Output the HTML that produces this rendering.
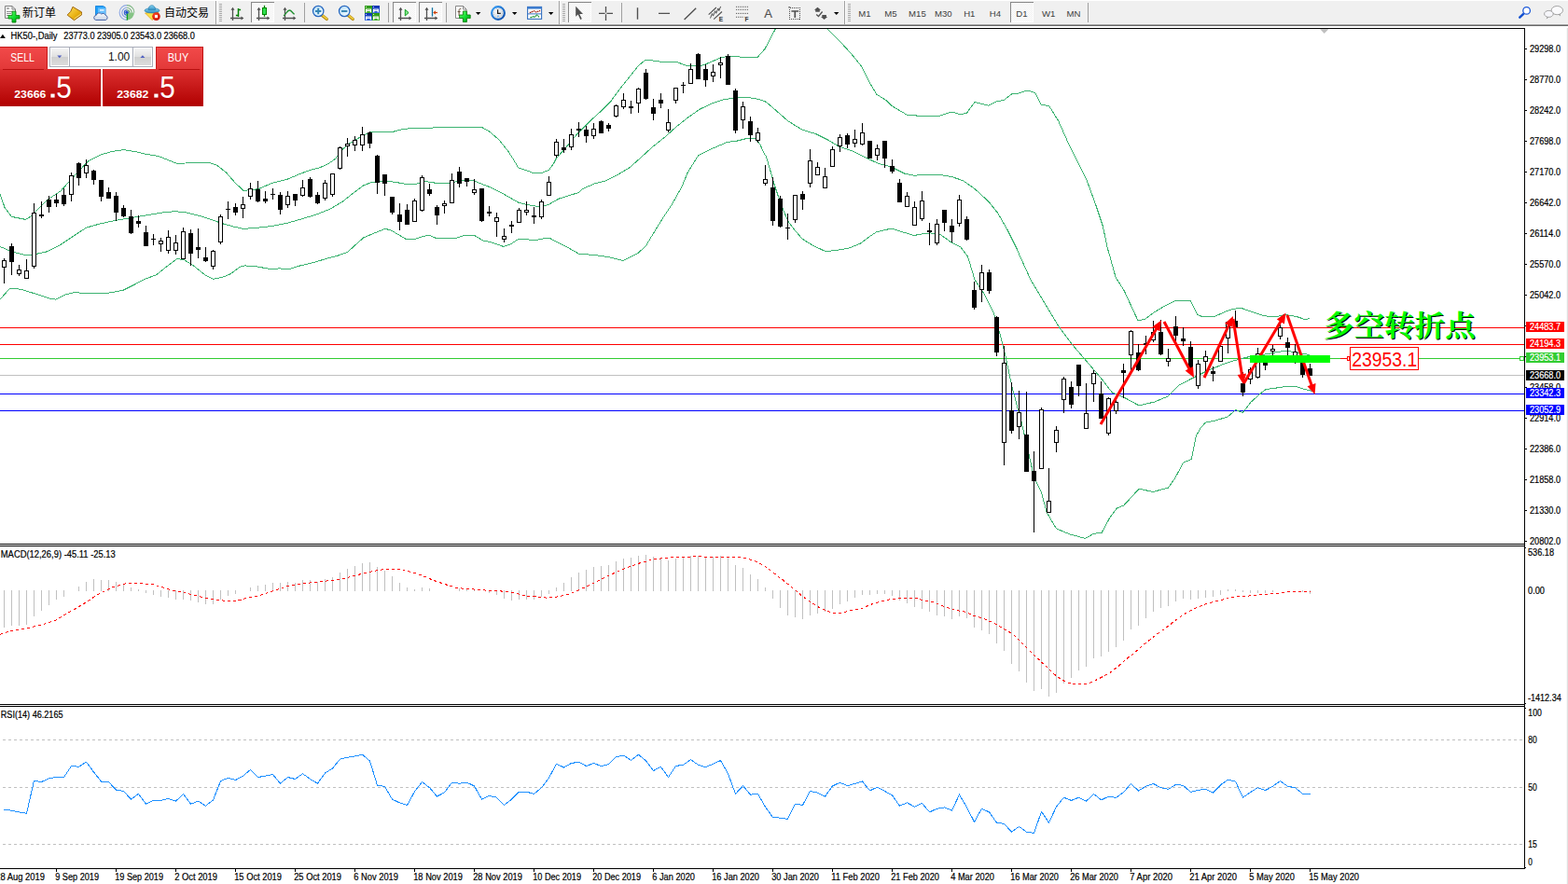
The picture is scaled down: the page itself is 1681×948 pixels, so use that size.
<!DOCTYPE html>
<html><head><meta charset="utf-8"><title>HK50-,Daily</title>
<style>
html,body{margin:0;padding:0;background:#fff}
body{width:1681px;height:948px;overflow:hidden;position:relative;font-family:"Liberation Sans",sans-serif}
svg{position:absolute;left:0;top:0;display:block}
svg text{font-family:"Liberation Sans",sans-serif}
</style></head><body>
<svg width="1681" height="948" viewBox="0 0 1681 948">
<rect x="0" y="0" width="1681" height="948" fill="#fff"/>
<g shape-rendering="crispEdges">
<rect x="0" y="351" width="1634" height="1" fill="#FF0000"/>
<rect x="0" y="369" width="1634" height="1" fill="#FF0000"/>
<rect x="0" y="384" width="1634" height="1" fill="#32CD32"/>
<rect x="0" y="402" width="1634" height="1" fill="#C0C0C0"/>
<rect x="0" y="422" width="1634" height="1" fill="#0000FF"/>
<rect x="0" y="440" width="1634" height="1" fill="#0000FF"/>
<clipPath id="cm"><rect x="0" y="31" width="1634" height="552"/></clipPath><g clip-path="url(#cm)">
<polyline points="0.0,208.2 5.0,222.4 12.5,232.4 27.5,235.4 32.5,232.4 50.0,214.9 65.0,204.9 82.5,185.5 94.9,172.5 107.4,166.2 119.9,162.5 132.4,160.7 144.9,162.5 154.9,165.0 169.9,167.5 182.4,172.5 189.9,175.5 207.4,174.5 224.9,174.5 232.4,177.0 242.4,185.0 252.3,196.2 261.1,204.4 268.6,203.7 277.3,202.5 292.3,196.2 307.3,192.5 322.3,186.2 332.3,182.5 342.3,180.0 352.3,175.5 359.8,170.0 366.0,161.2 374.8,153.7 389.8,145.0 397.3,141.7 420.0,141.7 432.5,138.2 450.0,137.4 475.0,136.7 499.9,136.2 516.2,136.2 524.9,141.2 534.9,149.9 544.9,162.4 549.8,170.0 555.7,179.8 563.6,182.4 571.4,185.4 580.6,185.4 588.5,182.4 593.7,175.2 596.3,170.0 597.4,168.7 607.4,157.4 619.9,142.4 632.4,129.9 644.9,118.7 654.8,108.7 664.8,95.0 674.8,82.5 684.8,70.0 692.3,64.2 699.8,65.0 714.8,67.0 724.8,66.2 734.8,70.0 749.8,71.2 759.8,67.5 772.3,62.0 782.3,60.0 794.8,61.2 812.3,61.2 820.0,52.5 831.2,31.2 845.0,15.0 860.0,7.5 875.0,17.5 887.4,31.2 899.9,43.7 912.4,57.5 923.7,71.2 932.4,88.7 939.9,101.2 949.9,107.5 956.2,113.7 972.4,123.2 987.4,124.4 1007.4,124.2 1019.9,119.9 1028.6,122.4 1036.1,121.7 1044.9,109.5 1059.8,113.2 1068.6,108.7 1076.1,107.5 1084.8,100.7 1092.3,100.0 1101.1,97.0 1109.8,99.5 1116.1,112.0 1124.8,113.7 1134.8,129.9 1144.8,152.4 1154.8,172.4 1164.8,192.4 1174.8,219.9 1182.3,242.4 1187.3,266.1 1189.9,275.0 1196.1,297.5 1204.9,311.2 1213.6,330.0 1219.9,343.7 1227.4,342.4 1237.4,334.9 1249.9,327.5 1259.9,322.5 1276.1,322.5 1283.6,337.4 1289.8,339.9 1302.3,339.4 1314.8,333.7 1322.3,331.2 1331.1,330.5 1342.3,334.4 1354.8,338.7 1367.3,339.9 1377.3,337.4 1389.8,339.4 1398.5,342.4 1404.0,341.7" fill="none" stroke="#3CB371" stroke-width="1" />
<polyline points="0.0,264.4 12.5,269.9 27.5,273.7 36.5,272.9 50.0,269.9 65.0,262.4 80.0,252.4 92.4,244.2 107.4,239.9 124.9,236.2 139.9,233.7 154.9,231.2 174.9,227.9 187.4,226.7 199.9,227.9 214.9,231.7 224.9,234.9 237.4,239.4 249.9,242.9 261.1,245.4 274.8,244.4 292.3,242.4 307.3,239.4 324.8,234.4 339.8,229.9 354.8,223.7 367.3,216.2 379.8,206.2 389.8,198.7 400.0,195.1 415.7,194.2 424.9,195.5 435.3,197.5 445.8,197.5 452.3,195.1 457.6,194.9 464.1,195.5 466.7,196.4 481.1,196.4 489.0,194.9 496.8,193.6 507.3,193.6 515.2,196.8 525.6,200.8 536.1,206.0 546.6,211.9 555.7,217.1 563.6,219.1 570.1,220.4 575.4,221.3 583.2,221.0 588.5,219.1 598.9,213.2 609.4,209.9 620.0,206.6 624.9,202.4 637.4,196.9 649.9,193.7 662.3,187.4 674.8,179.9 687.3,168.7 699.8,157.4 712.3,147.4 724.8,136.2 737.3,126.2 749.8,117.4 762.3,111.2 774.8,107.0 787.3,105.0 797.3,104.2 809.8,105.5 820.0,108.7 825.0,112.5 835.0,121.2 845.0,129.9 860.0,139.2 875.0,143.7 887.4,149.9 899.9,157.4 914.9,162.4 929.9,169.9 942.4,175.7 954.9,178.7 969.9,186.2 979.9,188.2 992.4,187.4 1007.4,187.4 1019.9,189.4 1032.4,193.7 1044.9,202.4 1059.8,216.1 1069.8,228.6 1079.8,246.1 1089.8,266.1 1092.5,272.5 1104.9,300.0 1119.9,325.0 1134.9,349.9 1149.9,369.9 1164.9,387.4 1179.9,404.9 1192.4,421.1 1204.9,426.1 1221.1,434.9 1237.4,431.1 1252.4,424.9 1264.9,412.4 1279.8,404.9 1294.8,397.4 1309.8,391.2 1324.8,386.2 1334.8,383.7 1344.8,381.2 1357.3,379.9 1369.8,377.4 1379.8,376.2 1392.3,378.7 1404.0,380.4" fill="none" stroke="#3CB371" stroke-width="1" />
<polyline points="0.0,321.1 10.0,309.9 15.0,309.1 25.0,311.1 37.5,314.9 52.5,319.9 60.0,321.1 70.0,316.1 80.0,313.6 94.9,314.9 109.9,314.9 119.9,313.6 132.4,311.1 142.4,306.1 154.9,299.4 167.4,294.9 179.9,284.9 189.9,277.4 197.4,278.7 207.4,284.9 219.9,294.9 228.6,299.4 239.9,296.9 247.4,293.6 257.3,286.2 262.3,284.9 274.8,285.7 289.8,288.6 299.8,287.9 309.8,288.6 319.8,285.4 334.8,281.9 349.8,277.4 359.8,274.9 372.3,270.7 379.8,263.7 389.8,254.9 400.0,250.5 405.2,248.5 413.1,245.3 419.6,247.2 426.2,251.1 435.3,256.4 445.8,256.1 452.3,253.8 460.2,252.2 468.1,255.7 478.5,255.7 487.7,255.7 498.2,252.4 508.6,252.4 513.9,255.7 517.8,257.9 525.6,259.6 540.0,264.5 547.9,261.6 555.7,256.4 563.6,256.4 568.8,257.4 575.4,257.4 585.8,255.1 589.8,255.7 596.3,259.0 605.5,263.6 615.9,269.5 621.2,272.5 635.0,273.2 652.4,275.7 667.9,279.5 683.7,271.7 692.4,263.7 699.9,251.2 709.9,235.0 719.9,220.0 731.1,200.0 737.3,184.9 748.5,166.9 762.3,159.9 779.8,152.4 789.8,151.2 799.8,148.7 809.8,148.7 814.8,154.9 820.0,166.2 821.2,167.4 825.0,179.9 830.0,197.4 837.5,219.9 845.0,237.4 852.5,247.4 860.0,256.1 870.0,262.4 872.3,263.7 884.8,269.5 894.8,268.7 909.8,266.2 922.3,261.2 932.3,253.7 939.8,248.7 956.0,245.0 967.3,248.7 980.0,252.5 989.9,250.6 997.4,249.9 1007.4,251.1 1019.9,259.9 1029.9,264.9 1037.5,275.0 1045.0,300.0 1055.0,315.0 1065.0,334.9 1072.5,359.9 1077.5,380.0 1085.0,415.0 1095.0,452.5 1102.5,484.9 1108.7,512.4 1116.2,527.4 1122.4,549.9 1132.4,566.9 1147.4,573.1 1163.7,577.4 1172.4,572.4 1181.2,571.1 1189.9,554.9 1197.4,544.9 1204.9,541.9 1213.6,532.4 1221.1,524.2 1236.1,527.4 1252.4,523.2 1259.9,512.4 1268.6,496.2 1277.3,492.4 1282.3,467.4 1287.3,458.7 1292.3,453.2 1302.3,451.2 1316.1,447.0 1324.8,439.5 1332.3,442.5 1341.1,431.2 1352.3,421.2 1357.3,417.5 1367.3,416.2 1379.8,414.2 1389.8,414.5 1397.3,417.0 1406.5,419.5" fill="none" stroke="#3CB371" stroke-width="1" />
</g>
<rect x="4" y="277" width="1" height="27" fill="#000"/>
<rect x="2" y="279" width="5" height="8" fill="#000"/><rect x="3" y="280" width="3" height="6" fill="#fff"/>
<rect x="12" y="261" width="1" height="34" fill="#000"/>
<rect x="10" y="264" width="5" height="17" fill="#000"/>
<rect x="20" y="284" width="1" height="12" fill="#000"/>
<rect x="18" y="289" width="5" height="5" fill="#000"/><rect x="19" y="290" width="3" height="3" fill="#fff"/>
<rect x="28" y="278" width="1" height="21" fill="#000"/>
<rect x="26" y="290" width="5" height="9" fill="#000"/><rect x="27" y="291" width="3" height="7" fill="#fff"/>
<rect x="36" y="218" width="1" height="70" fill="#000"/>
<rect x="34" y="228" width="5" height="58" fill="#000"/><rect x="35" y="229" width="3" height="56" fill="#fff"/>
<rect x="44" y="216" width="1" height="18" fill="#000"/>
<rect x="42" y="230" width="5" height="2" fill="#000"/>
<rect x="52" y="210" width="1" height="18" fill="#000"/>
<rect x="50" y="214" width="5" height="8" fill="#000"/>
<rect x="60" y="208" width="1" height="14" fill="#000"/>
<rect x="58" y="214" width="5" height="4" fill="#000"/>
<rect x="68" y="202" width="1" height="19" fill="#000"/>
<rect x="66" y="209" width="5" height="10" fill="#000"/>
<rect x="76" y="185" width="1" height="31" fill="#000"/>
<rect x="74" y="188" width="5" height="21" fill="#000"/><rect x="75" y="189" width="3" height="19" fill="#fff"/>
<rect x="84" y="174" width="1" height="25" fill="#000"/>
<rect x="82" y="175" width="5" height="16" fill="#000"/>
<rect x="92" y="171" width="1" height="20" fill="#000"/>
<rect x="90" y="177" width="5" height="9" fill="#000"/><rect x="91" y="178" width="3" height="7" fill="#fff"/>
<rect x="100" y="182" width="1" height="16" fill="#000"/>
<rect x="98" y="183" width="5" height="10" fill="#000"/>
<rect x="108" y="193" width="1" height="23" fill="#000"/>
<rect x="106" y="193" width="5" height="18" fill="#000"/>
<rect x="116" y="201" width="1" height="12" fill="#000"/>
<rect x="114" y="206" width="5" height="7" fill="#000"/>
<rect x="124" y="206" width="1" height="31" fill="#000"/>
<rect x="122" y="210" width="5" height="18" fill="#000"/>
<rect x="132" y="220" width="1" height="13" fill="#000"/>
<rect x="130" y="223" width="5" height="9" fill="#000"/>
<rect x="140" y="225" width="1" height="26" fill="#000"/>
<rect x="138" y="232" width="5" height="18" fill="#000"/>
<rect x="148" y="231" width="1" height="13" fill="#000"/>
<rect x="146" y="237" width="5" height="3" fill="#000"/>
<rect x="156" y="242" width="1" height="22" fill="#000"/>
<rect x="154" y="249" width="5" height="15" fill="#000"/>
<rect x="164" y="251" width="1" height="12" fill="#000"/>
<rect x="162" y="256" width="5" height="1" fill="#000"/>
<rect x="172" y="255" width="1" height="15" fill="#000"/>
<rect x="170" y="258" width="5" height="4" fill="#000"/><rect x="171" y="259" width="3" height="2" fill="#fff"/>
<rect x="180" y="247" width="1" height="25" fill="#000"/>
<rect x="178" y="254" width="5" height="15" fill="#000"/><rect x="179" y="255" width="3" height="13" fill="#fff"/>
<rect x="188" y="252" width="1" height="21" fill="#000"/>
<rect x="186" y="260" width="5" height="9" fill="#000"/><rect x="187" y="261" width="3" height="7" fill="#fff"/>
<rect x="196" y="244" width="1" height="34" fill="#000"/>
<rect x="194" y="248" width="5" height="30" fill="#000"/><rect x="195" y="249" width="3" height="28" fill="#fff"/>
<rect x="204" y="246" width="1" height="39" fill="#000"/>
<rect x="202" y="250" width="5" height="22" fill="#000"/>
<rect x="212" y="245" width="1" height="32" fill="#000"/>
<rect x="210" y="265" width="5" height="3" fill="#000"/>
<rect x="220" y="265" width="1" height="16" fill="#000"/>
<rect x="218" y="276" width="5" height="4" fill="#000"/>
<rect x="228" y="268" width="1" height="21" fill="#000"/>
<rect x="226" y="269" width="5" height="17" fill="#000"/><rect x="227" y="270" width="3" height="15" fill="#fff"/>
<rect x="236" y="230" width="1" height="32" fill="#000"/>
<rect x="234" y="232" width="5" height="28" fill="#000"/><rect x="235" y="233" width="3" height="26" fill="#fff"/>
<rect x="244" y="216" width="1" height="19" fill="#000"/>
<rect x="242" y="224" width="5" height="1" fill="#000"/>
<rect x="252" y="218" width="1" height="13" fill="#000"/>
<rect x="250" y="222" width="5" height="6" fill="#000"/>
<rect x="260" y="211" width="1" height="23" fill="#000"/>
<rect x="258" y="219" width="5" height="5" fill="#000"/><rect x="259" y="220" width="3" height="3" fill="#fff"/>
<rect x="268" y="196" width="1" height="18" fill="#000"/>
<rect x="266" y="202" width="5" height="9" fill="#000"/><rect x="267" y="203" width="3" height="7" fill="#fff"/>
<rect x="276" y="194" width="1" height="23" fill="#000"/>
<rect x="274" y="203" width="5" height="13" fill="#000"/>
<rect x="284" y="205" width="1" height="13" fill="#000"/>
<rect x="282" y="213" width="5" height="3" fill="#000"/>
<rect x="292" y="202" width="1" height="12" fill="#000"/>
<rect x="290" y="208" width="5" height="1" fill="#000"/>
<rect x="300" y="206" width="1" height="24" fill="#000"/>
<rect x="298" y="209" width="5" height="16" fill="#000"/>
<rect x="308" y="205" width="1" height="18" fill="#000"/>
<rect x="306" y="210" width="5" height="10" fill="#000"/><rect x="307" y="211" width="3" height="8" fill="#fff"/>
<rect x="316" y="208" width="1" height="13" fill="#000"/>
<rect x="314" y="208" width="5" height="7" fill="#000"/>
<rect x="324" y="193" width="1" height="18" fill="#000"/>
<rect x="322" y="201" width="5" height="9" fill="#000"/><rect x="323" y="202" width="3" height="7" fill="#fff"/>
<rect x="332" y="190" width="1" height="22" fill="#000"/>
<rect x="330" y="192" width="5" height="19" fill="#000"/>
<rect x="340" y="206" width="1" height="13" fill="#000"/>
<rect x="338" y="209" width="5" height="9" fill="#000"/>
<rect x="348" y="193" width="1" height="22" fill="#000"/>
<rect x="346" y="196" width="5" height="17" fill="#000"/><rect x="347" y="197" width="3" height="15" fill="#fff"/>
<rect x="356" y="186" width="1" height="25" fill="#000"/>
<rect x="354" y="186" width="5" height="23" fill="#000"/><rect x="355" y="187" width="3" height="21" fill="#fff"/>
<rect x="364" y="157" width="1" height="25" fill="#000"/>
<rect x="362" y="158" width="5" height="23" fill="#000"/><rect x="363" y="159" width="3" height="21" fill="#fff"/>
<rect x="372" y="148" width="1" height="20" fill="#000"/>
<rect x="370" y="154" width="5" height="3" fill="#000"/><rect x="371" y="155" width="3" height="1" fill="#fff"/>
<rect x="380" y="146" width="1" height="16" fill="#000"/>
<rect x="378" y="150" width="5" height="6" fill="#000"/><rect x="379" y="151" width="3" height="4" fill="#fff"/>
<rect x="388" y="136" width="1" height="26" fill="#000"/>
<rect x="386" y="144" width="5" height="12" fill="#000"/><rect x="387" y="145" width="3" height="10" fill="#fff"/>
<rect x="396" y="141" width="1" height="18" fill="#000"/>
<rect x="394" y="142" width="5" height="12" fill="#000"/>
<rect x="404" y="166" width="1" height="42" fill="#000"/>
<rect x="402" y="167" width="5" height="29" fill="#000"/>
<rect x="412" y="187" width="1" height="23" fill="#000"/>
<rect x="410" y="187" width="5" height="10" fill="#000"/>
<rect x="420" y="211" width="1" height="19" fill="#000"/>
<rect x="418" y="211" width="5" height="17" fill="#000"/>
<rect x="428" y="218" width="1" height="29" fill="#000"/>
<rect x="426" y="230" width="5" height="8" fill="#000"/>
<rect x="436" y="219" width="1" height="22" fill="#000"/>
<rect x="434" y="225" width="5" height="16" fill="#000"/>
<rect x="444" y="213" width="1" height="25" fill="#000"/>
<rect x="442" y="215" width="5" height="23" fill="#000"/><rect x="443" y="216" width="3" height="21" fill="#fff"/>
<rect x="452" y="188" width="1" height="39" fill="#000"/>
<rect x="450" y="190" width="5" height="36" fill="#000"/><rect x="451" y="191" width="3" height="34" fill="#fff"/>
<rect x="460" y="197" width="1" height="13" fill="#000"/>
<rect x="458" y="203" width="5" height="5" fill="#000"/>
<rect x="468" y="220" width="1" height="21" fill="#000"/>
<rect x="466" y="222" width="5" height="9" fill="#000"/>
<rect x="476" y="215" width="1" height="14" fill="#000"/>
<rect x="474" y="218" width="5" height="3" fill="#000"/><rect x="475" y="219" width="3" height="1" fill="#fff"/>
<rect x="484" y="186" width="1" height="32" fill="#000"/>
<rect x="482" y="193" width="5" height="25" fill="#000"/><rect x="483" y="194" width="3" height="23" fill="#fff"/>
<rect x="492" y="179" width="1" height="22" fill="#000"/>
<rect x="490" y="184" width="5" height="13" fill="#000"/>
<rect x="500" y="191" width="1" height="9" fill="#000"/>
<rect x="498" y="191" width="5" height="4" fill="#000"/>
<rect x="508" y="192" width="1" height="17" fill="#000"/>
<rect x="506" y="203" width="5" height="4" fill="#000"/><rect x="507" y="204" width="3" height="2" fill="#fff"/>
<rect x="516" y="202" width="1" height="36" fill="#000"/>
<rect x="514" y="202" width="5" height="35" fill="#000"/>
<rect x="524" y="221" width="1" height="11" fill="#000"/>
<rect x="522" y="227" width="5" height="2" fill="#000"/>
<rect x="532" y="228" width="1" height="26" fill="#000"/>
<rect x="530" y="233" width="5" height="5" fill="#000"/><rect x="531" y="234" width="3" height="3" fill="#fff"/>
<rect x="540" y="245" width="1" height="15" fill="#000"/>
<rect x="538" y="253" width="5" height="4" fill="#000"/><rect x="539" y="254" width="3" height="2" fill="#fff"/>
<rect x="548" y="237" width="1" height="13" fill="#000"/>
<rect x="546" y="241" width="5" height="2" fill="#000"/>
<rect x="556" y="223" width="1" height="16" fill="#000"/>
<rect x="554" y="225" width="5" height="14" fill="#000"/><rect x="555" y="226" width="3" height="12" fill="#fff"/>
<rect x="564" y="216" width="1" height="15" fill="#000"/>
<rect x="562" y="225" width="5" height="3" fill="#000"/><rect x="563" y="226" width="3" height="1" fill="#fff"/>
<rect x="572" y="222" width="1" height="18" fill="#000"/>
<rect x="570" y="231" width="5" height="2" fill="#000"/>
<rect x="580" y="214" width="1" height="21" fill="#000"/>
<rect x="578" y="216" width="5" height="17" fill="#000"/><rect x="579" y="217" width="3" height="15" fill="#fff"/>
<rect x="588" y="189" width="1" height="21" fill="#000"/>
<rect x="586" y="195" width="5" height="15" fill="#000"/><rect x="587" y="196" width="3" height="13" fill="#fff"/>
<rect x="596" y="149" width="1" height="20" fill="#000"/>
<rect x="594" y="152" width="5" height="15" fill="#000"/><rect x="595" y="153" width="3" height="13" fill="#fff"/>
<rect x="604" y="149" width="1" height="15" fill="#000"/>
<rect x="602" y="158" width="5" height="3" fill="#000"/>
<rect x="612" y="138" width="1" height="23" fill="#000"/>
<rect x="610" y="144" width="5" height="14" fill="#000"/><rect x="611" y="145" width="3" height="12" fill="#fff"/>
<rect x="620" y="131" width="1" height="16" fill="#000"/>
<rect x="618" y="138" width="5" height="2" fill="#000"/>
<rect x="628" y="135" width="1" height="18" fill="#000"/>
<rect x="626" y="139" width="5" height="7" fill="#000"/>
<rect x="636" y="132" width="1" height="17" fill="#000"/>
<rect x="634" y="138" width="5" height="8" fill="#000"/><rect x="635" y="139" width="3" height="6" fill="#fff"/>
<rect x="644" y="129" width="1" height="14" fill="#000"/>
<rect x="642" y="130" width="5" height="13" fill="#000"/>
<rect x="652" y="132" width="1" height="9" fill="#000"/>
<rect x="650" y="134" width="5" height="4" fill="#000"/>
<rect x="660" y="112" width="1" height="14" fill="#000"/>
<rect x="658" y="113" width="5" height="12" fill="#000"/><rect x="659" y="114" width="3" height="10" fill="#fff"/>
<rect x="668" y="100" width="1" height="17" fill="#000"/>
<rect x="666" y="107" width="5" height="8" fill="#000"/><rect x="667" y="108" width="3" height="6" fill="#fff"/>
<rect x="676" y="108" width="1" height="14" fill="#000"/>
<rect x="674" y="114" width="5" height="2" fill="#000"/>
<rect x="684" y="94" width="1" height="27" fill="#000"/>
<rect x="682" y="95" width="5" height="16" fill="#000"/><rect x="683" y="96" width="3" height="14" fill="#fff"/>
<rect x="692" y="74" width="1" height="33" fill="#000"/>
<rect x="690" y="78" width="5" height="28" fill="#000"/>
<rect x="700" y="106" width="1" height="23" fill="#000"/>
<rect x="698" y="115" width="5" height="7" fill="#000"/>
<rect x="708" y="100" width="1" height="16" fill="#000"/>
<rect x="706" y="107" width="5" height="4" fill="#000"/>
<rect x="716" y="117" width="1" height="25" fill="#000"/>
<rect x="714" y="131" width="5" height="9" fill="#000"/><rect x="715" y="132" width="3" height="7" fill="#fff"/>
<rect x="724" y="94" width="1" height="17" fill="#000"/>
<rect x="722" y="94" width="5" height="14" fill="#000"/><rect x="723" y="95" width="3" height="12" fill="#fff"/>
<rect x="732" y="88" width="1" height="12" fill="#000"/>
<rect x="730" y="91" width="5" height="1" fill="#000"/>
<rect x="740" y="68" width="1" height="22" fill="#000"/>
<rect x="738" y="74" width="5" height="16" fill="#000"/><rect x="739" y="75" width="3" height="14" fill="#fff"/>
<rect x="748" y="57" width="1" height="28" fill="#000"/>
<rect x="746" y="58" width="5" height="27" fill="#000"/>
<rect x="756" y="69" width="1" height="24" fill="#000"/>
<rect x="754" y="74" width="5" height="12" fill="#000"/>
<rect x="764" y="69" width="1" height="19" fill="#000"/>
<rect x="762" y="77" width="5" height="5" fill="#000"/><rect x="763" y="78" width="3" height="3" fill="#fff"/>
<rect x="772" y="61" width="1" height="23" fill="#000"/>
<rect x="770" y="67" width="5" height="3" fill="#000"/><rect x="771" y="68" width="3" height="1" fill="#fff"/>
<rect x="780" y="58" width="1" height="33" fill="#000"/>
<rect x="778" y="60" width="5" height="31" fill="#000"/>
<rect x="788" y="95" width="1" height="48" fill="#000"/>
<rect x="786" y="97" width="5" height="43" fill="#000"/>
<rect x="796" y="109" width="1" height="29" fill="#000"/>
<rect x="794" y="114" width="5" height="15" fill="#000"/><rect x="795" y="115" width="3" height="13" fill="#fff"/>
<rect x="804" y="125" width="1" height="27" fill="#000"/>
<rect x="802" y="130" width="5" height="15" fill="#000"/>
<rect x="812" y="137" width="1" height="16" fill="#000"/>
<rect x="810" y="142" width="5" height="9" fill="#000"/><rect x="811" y="143" width="3" height="7" fill="#fff"/>
<rect x="820" y="177" width="1" height="22" fill="#000"/>
<rect x="818" y="192" width="5" height="5" fill="#000"/><rect x="819" y="193" width="3" height="3" fill="#fff"/>
<rect x="828" y="190" width="1" height="52" fill="#000"/>
<rect x="826" y="201" width="5" height="36" fill="#000"/>
<rect x="836" y="210" width="1" height="34" fill="#000"/>
<rect x="834" y="213" width="5" height="30" fill="#000"/>
<rect x="844" y="229" width="1" height="28" fill="#000"/>
<rect x="842" y="244" width="5" height="1" fill="#000"/>
<rect x="852" y="209" width="1" height="30" fill="#000"/>
<rect x="850" y="209" width="5" height="27" fill="#000"/><rect x="851" y="210" width="3" height="25" fill="#fff"/>
<rect x="860" y="205" width="1" height="20" fill="#000"/>
<rect x="858" y="208" width="5" height="6" fill="#000"/>
<rect x="868" y="160" width="1" height="41" fill="#000"/>
<rect x="866" y="172" width="5" height="25" fill="#000"/><rect x="867" y="173" width="3" height="23" fill="#fff"/>
<rect x="876" y="174" width="1" height="14" fill="#000"/>
<rect x="874" y="179" width="5" height="9" fill="#000"/><rect x="875" y="180" width="3" height="7" fill="#fff"/>
<rect x="884" y="180" width="1" height="22" fill="#000"/>
<rect x="882" y="189" width="5" height="13" fill="#000"/><rect x="883" y="190" width="3" height="11" fill="#fff"/>
<rect x="892" y="157" width="1" height="22" fill="#000"/>
<rect x="890" y="160" width="5" height="19" fill="#000"/><rect x="891" y="161" width="3" height="17" fill="#fff"/>
<rect x="900" y="144" width="1" height="19" fill="#000"/>
<rect x="898" y="147" width="5" height="10" fill="#000"/><rect x="899" y="148" width="3" height="8" fill="#fff"/>
<rect x="908" y="143" width="1" height="16" fill="#000"/>
<rect x="906" y="145" width="5" height="10" fill="#000"/>
<rect x="916" y="139" width="1" height="19" fill="#000"/>
<rect x="914" y="149" width="5" height="5" fill="#000"/><rect x="915" y="150" width="3" height="3" fill="#fff"/>
<rect x="924" y="132" width="1" height="24" fill="#000"/>
<rect x="922" y="142" width="5" height="13" fill="#000"/><rect x="923" y="143" width="3" height="11" fill="#fff"/>
<rect x="932" y="151" width="1" height="19" fill="#000"/>
<rect x="930" y="151" width="5" height="19" fill="#000"/>
<rect x="940" y="155" width="1" height="17" fill="#000"/>
<rect x="938" y="159" width="5" height="8" fill="#000"/><rect x="939" y="160" width="3" height="6" fill="#fff"/>
<rect x="948" y="151" width="1" height="29" fill="#000"/>
<rect x="946" y="151" width="5" height="19" fill="#000"/>
<rect x="956" y="171" width="1" height="15" fill="#000"/>
<rect x="954" y="178" width="5" height="6" fill="#000"/>
<rect x="964" y="192" width="1" height="25" fill="#000"/>
<rect x="962" y="196" width="5" height="21" fill="#000"/>
<rect x="972" y="206" width="1" height="16" fill="#000"/>
<rect x="970" y="210" width="5" height="12" fill="#000"/><rect x="971" y="211" width="3" height="10" fill="#fff"/>
<rect x="980" y="216" width="1" height="26" fill="#000"/>
<rect x="978" y="222" width="5" height="20" fill="#000"/><rect x="979" y="223" width="3" height="18" fill="#fff"/>
<rect x="988" y="205" width="1" height="32" fill="#000"/>
<rect x="986" y="215" width="5" height="20" fill="#000"/><rect x="987" y="216" width="3" height="18" fill="#fff"/>
<rect x="996" y="239" width="1" height="24" fill="#000"/>
<rect x="994" y="247" width="5" height="2" fill="#000"/>
<rect x="1004" y="235" width="1" height="28" fill="#000"/>
<rect x="1002" y="240" width="5" height="21" fill="#000"/><rect x="1003" y="241" width="3" height="19" fill="#fff"/>
<rect x="1012" y="225" width="1" height="23" fill="#000"/>
<rect x="1010" y="225" width="5" height="14" fill="#000"/>
<rect x="1020" y="235" width="1" height="25" fill="#000"/>
<rect x="1018" y="242" width="5" height="7" fill="#000"/>
<rect x="1028" y="209" width="1" height="34" fill="#000"/>
<rect x="1026" y="214" width="5" height="26" fill="#000"/><rect x="1027" y="215" width="3" height="24" fill="#fff"/>
<rect x="1036" y="232" width="1" height="26" fill="#000"/>
<rect x="1034" y="235" width="5" height="22" fill="#000"/>
<rect x="1044" y="302" width="1" height="30" fill="#000"/>
<rect x="1042" y="311" width="5" height="19" fill="#000"/>
<rect x="1052" y="284" width="1" height="40" fill="#000"/>
<rect x="1050" y="292" width="5" height="19" fill="#000"/><rect x="1051" y="293" width="3" height="17" fill="#fff"/>
<rect x="1060" y="289" width="1" height="26" fill="#000"/>
<rect x="1058" y="292" width="5" height="20" fill="#000"/>
<rect x="1068" y="339" width="1" height="43" fill="#000"/>
<rect x="1066" y="340" width="5" height="38" fill="#000"/>
<rect x="1076" y="371" width="1" height="128" fill="#000"/>
<rect x="1074" y="389" width="5" height="86" fill="#000"/><rect x="1075" y="390" width="3" height="84" fill="#fff"/>
<rect x="1084" y="410" width="1" height="55" fill="#000"/>
<rect x="1082" y="440" width="5" height="22" fill="#000"/>
<rect x="1092" y="419" width="1" height="52" fill="#000"/>
<rect x="1090" y="442" width="5" height="16" fill="#000"/><rect x="1091" y="443" width="3" height="14" fill="#fff"/>
<rect x="1100" y="420" width="1" height="86" fill="#000"/>
<rect x="1098" y="466" width="5" height="40" fill="#000"/>
<rect x="1108" y="484" width="1" height="87" fill="#000"/>
<rect x="1106" y="505" width="5" height="11" fill="#000"/>
<rect x="1116" y="437" width="1" height="66" fill="#000"/>
<rect x="1114" y="439" width="5" height="64" fill="#000"/><rect x="1115" y="440" width="3" height="62" fill="#fff"/>
<rect x="1124" y="502" width="1" height="48" fill="#000"/>
<rect x="1122" y="537" width="5" height="13" fill="#000"/><rect x="1123" y="538" width="3" height="11" fill="#fff"/>
<rect x="1132" y="457" width="1" height="28" fill="#000"/>
<rect x="1130" y="461" width="5" height="14" fill="#000"/><rect x="1131" y="462" width="3" height="12" fill="#fff"/>
<rect x="1140" y="404" width="1" height="39" fill="#000"/>
<rect x="1138" y="406" width="5" height="23" fill="#000"/><rect x="1139" y="407" width="3" height="21" fill="#fff"/>
<rect x="1148" y="409" width="1" height="29" fill="#000"/>
<rect x="1146" y="415" width="5" height="19" fill="#000"/>
<rect x="1156" y="391" width="1" height="34" fill="#000"/>
<rect x="1154" y="391" width="5" height="23" fill="#000"/>
<rect x="1164" y="411" width="1" height="49" fill="#000"/>
<rect x="1162" y="443" width="5" height="17" fill="#000"/><rect x="1163" y="444" width="3" height="15" fill="#fff"/>
<rect x="1172" y="397" width="1" height="34" fill="#000"/>
<rect x="1170" y="400" width="5" height="12" fill="#000"/><rect x="1171" y="401" width="3" height="10" fill="#fff"/>
<rect x="1180" y="409" width="1" height="40" fill="#000"/>
<rect x="1178" y="422" width="5" height="27" fill="#000"/>
<rect x="1188" y="426" width="1" height="41" fill="#000"/>
<rect x="1186" y="427" width="5" height="38" fill="#000"/><rect x="1187" y="428" width="3" height="36" fill="#fff"/>
<rect x="1196" y="429" width="1" height="15" fill="#000"/>
<rect x="1194" y="431" width="5" height="10" fill="#000"/><rect x="1195" y="432" width="3" height="8" fill="#fff"/>
<rect x="1204" y="390" width="1" height="37" fill="#000"/>
<rect x="1202" y="397" width="5" height="3" fill="#000"/>
<rect x="1212" y="354" width="1" height="44" fill="#000"/>
<rect x="1210" y="355" width="5" height="26" fill="#000"/><rect x="1211" y="356" width="3" height="24" fill="#fff"/>
<rect x="1220" y="369" width="1" height="29" fill="#000"/>
<rect x="1218" y="378" width="5" height="19" fill="#000"/>
<rect x="1228" y="360" width="1" height="20" fill="#000"/>
<rect x="1226" y="368" width="5" height="2" fill="#000"/>
<rect x="1236" y="344" width="1" height="23" fill="#000"/>
<rect x="1234" y="356" width="5" height="9" fill="#000"/><rect x="1235" y="357" width="3" height="7" fill="#fff"/>
<rect x="1244" y="343" width="1" height="38" fill="#000"/>
<rect x="1242" y="356" width="5" height="24" fill="#000"/>
<rect x="1252" y="374" width="1" height="19" fill="#000"/>
<rect x="1250" y="384" width="5" height="4" fill="#000"/><rect x="1251" y="385" width="3" height="2" fill="#fff"/>
<rect x="1260" y="339" width="1" height="29" fill="#000"/>
<rect x="1258" y="350" width="5" height="10" fill="#000"/>
<rect x="1268" y="351" width="1" height="20" fill="#000"/>
<rect x="1266" y="363" width="5" height="3" fill="#000"/>
<rect x="1276" y="366" width="1" height="32" fill="#000"/>
<rect x="1274" y="372" width="5" height="23" fill="#000"/>
<rect x="1284" y="386" width="1" height="31" fill="#000"/>
<rect x="1282" y="390" width="5" height="24" fill="#000"/><rect x="1283" y="391" width="3" height="22" fill="#fff"/>
<rect x="1292" y="376" width="1" height="22" fill="#000"/>
<rect x="1290" y="382" width="5" height="6" fill="#000"/><rect x="1291" y="383" width="3" height="4" fill="#fff"/>
<rect x="1300" y="393" width="1" height="16" fill="#000"/>
<rect x="1298" y="398" width="5" height="3" fill="#000"/>
<rect x="1308" y="370" width="1" height="18" fill="#000"/>
<rect x="1306" y="371" width="5" height="17" fill="#000"/><rect x="1307" y="372" width="3" height="15" fill="#fff"/>
<rect x="1316" y="344" width="1" height="35" fill="#000"/>
<rect x="1314" y="345" width="5" height="18" fill="#000"/><rect x="1315" y="346" width="3" height="16" fill="#fff"/>
<rect x="1324" y="333" width="1" height="18" fill="#000"/>
<rect x="1322" y="344" width="5" height="7" fill="#000"/>
<rect x="1332" y="399" width="1" height="26" fill="#000"/>
<rect x="1330" y="411" width="5" height="10" fill="#000"/>
<rect x="1340" y="394" width="1" height="18" fill="#000"/>
<rect x="1338" y="396" width="5" height="11" fill="#000"/><rect x="1339" y="397" width="3" height="9" fill="#fff"/>
<rect x="1348" y="373" width="1" height="33" fill="#000"/>
<rect x="1346" y="379" width="5" height="26" fill="#000"/><rect x="1347" y="380" width="3" height="24" fill="#fff"/>
<rect x="1356" y="386" width="1" height="11" fill="#000"/>
<rect x="1354" y="389" width="5" height="3" fill="#000"/>
<rect x="1364" y="370" width="1" height="11" fill="#000"/>
<rect x="1362" y="374" width="5" height="3" fill="#000"/><rect x="1363" y="375" width="3" height="1" fill="#fff"/>
<rect x="1372" y="346" width="1" height="18" fill="#000"/>
<rect x="1370" y="351" width="5" height="10" fill="#000"/><rect x="1371" y="352" width="3" height="8" fill="#fff"/>
<rect x="1380" y="362" width="1" height="19" fill="#000"/>
<rect x="1378" y="367" width="5" height="6" fill="#000"/>
<rect x="1388" y="369" width="1" height="21" fill="#000"/>
<rect x="1386" y="377" width="5" height="12" fill="#000"/><rect x="1387" y="378" width="3" height="10" fill="#fff"/>
<rect x="1396" y="389" width="1" height="16" fill="#000"/>
<rect x="1394" y="389" width="5" height="13" fill="#000"/>
<rect x="1404" y="390" width="1" height="13" fill="#000"/>
<rect x="1402" y="395" width="5" height="8" fill="#000"/>
</g>
<g><title>多空转折点</title><text x="0" y="0" font-size="32" font-weight="bold" fill="#000" textLength="160" lengthAdjust="spacingAndGlyphs" transform="translate(1419.9,361.1) scale(1.018,0.968)" style="font-family:'Liberation Serif','Noto Serif CJK SC',serif">多空转折点</text><text x="0" y="0" font-size="32" font-weight="bold" fill="#00FF00" textLength="160" lengthAdjust="spacingAndGlyphs" transform="translate(1418.9,360.1) scale(1.018,0.968)" style="font-family:'Liberation Serif','Noto Serif CJK SC',serif">多空转折点</text></g>
<line x1="1180.0" y1="455.0" x2="1240.5" y2="351.3" stroke="#FF0000" stroke-width="3.0"/>
<polygon points="1245.0,343.5 1243.6,355.4 1235.4,350.6" fill="#FF0000"/>
<line x1="1248.0" y1="345.0" x2="1275.8" y2="397.1" stroke="#FF0000" stroke-width="3.0"/>
<polygon points="1280.0,405.0 1270.6,397.5 1279.0,393.1" fill="#FF0000"/>
<line x1="1291.0" y1="405.0" x2="1318.2" y2="347.1" stroke="#FF0000" stroke-width="3.0"/>
<polygon points="1322.0,339.0 1321.6,351.0 1313.0,346.9" fill="#FF0000"/>
<line x1="1322.0" y1="342.0" x2="1331.6" y2="403.1" stroke="#FF0000" stroke-width="3.0"/>
<polygon points="1333.0,412.0 1326.6,401.9 1336.0,400.4" fill="#FF0000"/>
<line x1="1333.5" y1="411.0" x2="1373.9" y2="343.2" stroke="#FF0000" stroke-width="3.0"/>
<polygon points="1378.5,335.5 1376.9,347.4 1368.8,342.5" fill="#FF0000"/>
<line x1="1380.0" y1="338.0" x2="1406.6" y2="414.5" stroke="#FF0000" stroke-width="3.0"/>
<polygon points="1409.6,423.0 1401.5,414.2 1410.5,411.0" fill="#FF0000"/>
<g shape-rendering="crispEdges">
<rect x="1340" y="381" width="86" height="8" fill="#00FF00"/>
<rect x="1437" y="384" width="7" height="1" fill="#FF0000"/>
<rect x="1444.5" y="382.5" width="2" height="4" fill="#fff" stroke="#FF0000" stroke-width="1"/>
<rect x="1447.5" y="372.5" width="73" height="24" fill="#fff" stroke="#FF0000" stroke-width="1"/>
<rect x="1629.5" y="382.5" width="4" height="4" fill="#fff" stroke="#32CD32" stroke-width="1"/>
</g>
<text x="1449.2" y="392.6" font-size="22" fill="#FF0000" text-anchor="start" textLength="70" lengthAdjust="spacingAndGlyphs" >23953.1</text>
<g shape-rendering="crispEdges">
<rect x="0" y="30" width="1635" height="1" fill="#000"/>
<rect x="1634" y="30" width="1" height="902" fill="#000"/>
<rect x="0" y="583" width="1635" height="1" fill="#000"/>
<rect x="0" y="585" width="1635" height="1" fill="#000"/>
<rect x="0" y="755" width="1635" height="1" fill="#000"/>
<rect x="0" y="757" width="1635" height="1" fill="#000"/>
<rect x="0" y="931" width="1635" height="1" fill="#000"/>
<rect x="1679" y="28" width="1" height="920" fill="#F8F8F8"/>
<rect x="1680" y="28" width="1" height="920" fill="#E0E0E0"/>
<rect x="1635" y="587" width="1" height="1" fill="#000"/>
<rect x="1635" y="754" width="1" height="1" fill="#000"/>
<rect x="1635" y="759" width="1" height="1" fill="#000"/>
<rect x="1635" y="930" width="1" height="1" fill="#000"/>
<polygon points="1415,31 1424.5,31 1419.7,36" fill="#C0C0C0" shape-rendering="auto"/>
<rect x="1635" y="52" width="2" height="1" fill="#000"/>
<rect x="1635" y="85" width="2" height="1" fill="#000"/>
<rect x="1635" y="118" width="2" height="1" fill="#000"/>
<rect x="1635" y="151" width="2" height="1" fill="#000"/>
<rect x="1635" y="184" width="2" height="1" fill="#000"/>
<rect x="1635" y="217" width="2" height="1" fill="#000"/>
<rect x="1635" y="250" width="2" height="1" fill="#000"/>
<rect x="1635" y="283" width="2" height="1" fill="#000"/>
<rect x="1635" y="316" width="2" height="1" fill="#000"/>
<rect x="1635" y="349" width="2" height="1" fill="#000"/>
<rect x="1635" y="382" width="2" height="1" fill="#000"/>
<rect x="1635" y="415" width="2" height="1" fill="#000"/>
<rect x="1635" y="448" width="2" height="1" fill="#000"/>
<rect x="1635" y="481" width="2" height="1" fill="#000"/>
<rect x="1635" y="514" width="2" height="1" fill="#000"/>
<rect x="1635" y="547" width="2" height="1" fill="#000"/>
<rect x="1635" y="580" width="2" height="1" fill="#000"/>
</g>
<text x="1640" y="56" font-size="10.0" fill="#000" stroke="#000" stroke-width="0.2" text-anchor="start" textLength="33" lengthAdjust="spacingAndGlyphs" >29298.0</text>
<text x="1640" y="89" font-size="10.0" fill="#000" stroke="#000" stroke-width="0.2" text-anchor="start" textLength="33" lengthAdjust="spacingAndGlyphs" >28770.0</text>
<text x="1640" y="122" font-size="10.0" fill="#000" stroke="#000" stroke-width="0.2" text-anchor="start" textLength="33" lengthAdjust="spacingAndGlyphs" >28242.0</text>
<text x="1640" y="155" font-size="10.0" fill="#000" stroke="#000" stroke-width="0.2" text-anchor="start" textLength="33" lengthAdjust="spacingAndGlyphs" >27698.0</text>
<text x="1640" y="188" font-size="10.0" fill="#000" stroke="#000" stroke-width="0.2" text-anchor="start" textLength="33" lengthAdjust="spacingAndGlyphs" >27170.0</text>
<text x="1640" y="221" font-size="10.0" fill="#000" stroke="#000" stroke-width="0.2" text-anchor="start" textLength="33" lengthAdjust="spacingAndGlyphs" >26642.0</text>
<text x="1640" y="254" font-size="10.0" fill="#000" stroke="#000" stroke-width="0.2" text-anchor="start" textLength="33" lengthAdjust="spacingAndGlyphs" >26114.0</text>
<text x="1640" y="287" font-size="10.0" fill="#000" stroke="#000" stroke-width="0.2" text-anchor="start" textLength="33" lengthAdjust="spacingAndGlyphs" >25570.0</text>
<text x="1640" y="320" font-size="10.0" fill="#000" stroke="#000" stroke-width="0.2" text-anchor="start" textLength="33" lengthAdjust="spacingAndGlyphs" >25042.0</text>
<text x="1640" y="419" font-size="10.0" fill="#000" stroke="#000" stroke-width="0.2" text-anchor="start" textLength="33" lengthAdjust="spacingAndGlyphs" >23458.0</text>
<text x="1640" y="452" font-size="10.0" fill="#000" stroke="#000" stroke-width="0.2" text-anchor="start" textLength="33" lengthAdjust="spacingAndGlyphs" >22914.0</text>
<text x="1640" y="485" font-size="10.0" fill="#000" stroke="#000" stroke-width="0.2" text-anchor="start" textLength="33" lengthAdjust="spacingAndGlyphs" >22386.0</text>
<text x="1640" y="518" font-size="10.0" fill="#000" stroke="#000" stroke-width="0.2" text-anchor="start" textLength="33" lengthAdjust="spacingAndGlyphs" >21858.0</text>
<text x="1640" y="551" font-size="10.0" fill="#000" stroke="#000" stroke-width="0.2" text-anchor="start" textLength="33" lengthAdjust="spacingAndGlyphs" >21330.0</text>
<text x="1640" y="584" font-size="10.0" fill="#000" stroke="#000" stroke-width="0.2" text-anchor="start" textLength="33" lengthAdjust="spacingAndGlyphs" >20802.0</text>
<rect x="1636" y="345" width="41" height="11" fill="#FF0000" shape-rendering="crispEdges"/>
<text x="1640" y="354" font-size="10.0" fill="#fff" stroke="#fff" stroke-width="0.2" text-anchor="start" textLength="33" lengthAdjust="spacingAndGlyphs" >24483.7</text>
<rect x="1636" y="363" width="41" height="11" fill="#FF0000" shape-rendering="crispEdges"/>
<text x="1640" y="372" font-size="10.0" fill="#fff" stroke="#fff" stroke-width="0.2" text-anchor="start" textLength="33" lengthAdjust="spacingAndGlyphs" >24194.3</text>
<rect x="1636" y="378" width="41" height="11" fill="#32CD32" shape-rendering="crispEdges"/>
<text x="1640" y="387" font-size="10.0" fill="#fff" stroke="#fff" stroke-width="0.2" text-anchor="start" textLength="33" lengthAdjust="spacingAndGlyphs" >23953.1</text>
<rect x="1636" y="397" width="41" height="11" fill="#000" shape-rendering="crispEdges"/>
<text x="1640" y="406" font-size="10.0" fill="#fff" stroke="#fff" stroke-width="0.2" text-anchor="start" textLength="33" lengthAdjust="spacingAndGlyphs" >23668.0</text>
<rect x="1636" y="416" width="41" height="11" fill="#0000FF" shape-rendering="crispEdges"/>
<text x="1640" y="425" font-size="10.0" fill="#fff" stroke="#fff" stroke-width="0.2" text-anchor="start" textLength="33" lengthAdjust="spacingAndGlyphs" >23342.3</text>
<rect x="1636" y="434" width="41" height="11" fill="#0000FF" shape-rendering="crispEdges"/>
<text x="1640" y="443" font-size="10.0" fill="#fff" stroke="#fff" stroke-width="0.2" text-anchor="start" textLength="33" lengthAdjust="spacingAndGlyphs" >23052.9</text>
<g shape-rendering="crispEdges">
<rect x="4" y="633" width="1" height="40" fill="#C0C0C0"/>
<rect x="12" y="633" width="1" height="38" fill="#C0C0C0"/>
<rect x="20" y="633" width="1" height="38" fill="#C0C0C0"/>
<rect x="28" y="633" width="1" height="37" fill="#C0C0C0"/>
<rect x="36" y="633" width="1" height="28" fill="#C0C0C0"/>
<rect x="44" y="633" width="1" height="22" fill="#C0C0C0"/>
<rect x="52" y="633" width="1" height="16" fill="#C0C0C0"/>
<rect x="60" y="633" width="1" height="10" fill="#C0C0C0"/>
<rect x="68" y="633" width="1" height="7" fill="#C0C0C0"/>
<rect x="84" y="629" width="1" height="5" fill="#C0C0C0"/>
<rect x="92" y="624" width="1" height="10" fill="#C0C0C0"/>
<rect x="100" y="621" width="1" height="13" fill="#C0C0C0"/>
<rect x="108" y="622" width="1" height="12" fill="#C0C0C0"/>
<rect x="116" y="622" width="1" height="12" fill="#C0C0C0"/>
<rect x="124" y="624" width="1" height="10" fill="#C0C0C0"/>
<rect x="132" y="627" width="1" height="7" fill="#C0C0C0"/>
<rect x="140" y="630" width="1" height="4" fill="#C0C0C0"/>
<rect x="148" y="632" width="1" height="2" fill="#C0C0C0"/>
<rect x="156" y="633" width="1" height="3" fill="#C0C0C0"/>
<rect x="164" y="633" width="1" height="5" fill="#C0C0C0"/>
<rect x="172" y="633" width="1" height="7" fill="#C0C0C0"/>
<rect x="180" y="633" width="1" height="8" fill="#C0C0C0"/>
<rect x="188" y="633" width="1" height="10" fill="#C0C0C0"/>
<rect x="196" y="633" width="1" height="10" fill="#C0C0C0"/>
<rect x="204" y="633" width="1" height="11" fill="#C0C0C0"/>
<rect x="212" y="633" width="1" height="13" fill="#C0C0C0"/>
<rect x="220" y="633" width="1" height="15" fill="#C0C0C0"/>
<rect x="228" y="633" width="1" height="15" fill="#C0C0C0"/>
<rect x="236" y="633" width="1" height="10" fill="#C0C0C0"/>
<rect x="244" y="633" width="1" height="6" fill="#C0C0C0"/>
<rect x="252" y="633" width="1" height="4" fill="#C0C0C0"/>
<rect x="268" y="630" width="1" height="4" fill="#C0C0C0"/>
<rect x="276" y="628" width="1" height="6" fill="#C0C0C0"/>
<rect x="284" y="627" width="1" height="7" fill="#C0C0C0"/>
<rect x="292" y="625" width="1" height="9" fill="#C0C0C0"/>
<rect x="300" y="625" width="1" height="9" fill="#C0C0C0"/>
<rect x="308" y="624" width="1" height="10" fill="#C0C0C0"/>
<rect x="316" y="625" width="1" height="9" fill="#C0C0C0"/>
<rect x="324" y="622" width="1" height="12" fill="#C0C0C0"/>
<rect x="332" y="622" width="1" height="12" fill="#C0C0C0"/>
<rect x="340" y="624" width="1" height="10" fill="#C0C0C0"/>
<rect x="348" y="621" width="1" height="13" fill="#C0C0C0"/>
<rect x="356" y="619" width="1" height="15" fill="#C0C0C0"/>
<rect x="364" y="614" width="1" height="20" fill="#C0C0C0"/>
<rect x="372" y="610" width="1" height="24" fill="#C0C0C0"/>
<rect x="380" y="607" width="1" height="27" fill="#C0C0C0"/>
<rect x="388" y="604" width="1" height="30" fill="#C0C0C0"/>
<rect x="396" y="603" width="1" height="31" fill="#C0C0C0"/>
<rect x="404" y="608" width="1" height="26" fill="#C0C0C0"/>
<rect x="412" y="612" width="1" height="22" fill="#C0C0C0"/>
<rect x="420" y="618" width="1" height="16" fill="#C0C0C0"/>
<rect x="428" y="625" width="1" height="9" fill="#C0C0C0"/>
<rect x="436" y="630" width="1" height="4" fill="#C0C0C0"/>
<rect x="444" y="632" width="1" height="2" fill="#C0C0C0"/>
<rect x="452" y="630" width="1" height="4" fill="#C0C0C0"/>
<rect x="460" y="631" width="1" height="3" fill="#C0C0C0"/>
<rect x="492" y="631" width="1" height="3" fill="#C0C0C0"/>
<rect x="500" y="632" width="1" height="2" fill="#C0C0C0"/>
<rect x="508" y="632" width="1" height="2" fill="#C0C0C0"/>
<rect x="524" y="633" width="1" height="3" fill="#C0C0C0"/>
<rect x="532" y="633" width="1" height="5" fill="#C0C0C0"/>
<rect x="540" y="633" width="1" height="9" fill="#C0C0C0"/>
<rect x="548" y="633" width="1" height="11" fill="#C0C0C0"/>
<rect x="556" y="633" width="1" height="10" fill="#C0C0C0"/>
<rect x="564" y="633" width="1" height="10" fill="#C0C0C0"/>
<rect x="572" y="633" width="1" height="10" fill="#C0C0C0"/>
<rect x="580" y="633" width="1" height="7" fill="#C0C0C0"/>
<rect x="588" y="633" width="1" height="4" fill="#C0C0C0"/>
<rect x="596" y="630" width="1" height="4" fill="#C0C0C0"/>
<rect x="604" y="625" width="1" height="9" fill="#C0C0C0"/>
<rect x="612" y="619" width="1" height="15" fill="#C0C0C0"/>
<rect x="620" y="614" width="1" height="20" fill="#C0C0C0"/>
<rect x="628" y="611" width="1" height="23" fill="#C0C0C0"/>
<rect x="636" y="608" width="1" height="26" fill="#C0C0C0"/>
<rect x="644" y="607" width="1" height="27" fill="#C0C0C0"/>
<rect x="652" y="606" width="1" height="28" fill="#C0C0C0"/>
<rect x="660" y="602" width="1" height="32" fill="#C0C0C0"/>
<rect x="668" y="599" width="1" height="35" fill="#C0C0C0"/>
<rect x="676" y="598" width="1" height="36" fill="#C0C0C0"/>
<rect x="684" y="596" width="1" height="38" fill="#C0C0C0"/>
<rect x="692" y="595" width="1" height="39" fill="#C0C0C0"/>
<rect x="700" y="597" width="1" height="37" fill="#C0C0C0"/>
<rect x="708" y="598" width="1" height="36" fill="#C0C0C0"/>
<rect x="716" y="601" width="1" height="33" fill="#C0C0C0"/>
<rect x="724" y="599" width="1" height="35" fill="#C0C0C0"/>
<rect x="732" y="598" width="1" height="36" fill="#C0C0C0"/>
<rect x="740" y="596" width="1" height="38" fill="#C0C0C0"/>
<rect x="748" y="596" width="1" height="38" fill="#C0C0C0"/>
<rect x="756" y="597" width="1" height="37" fill="#C0C0C0"/>
<rect x="764" y="597" width="1" height="37" fill="#C0C0C0"/>
<rect x="772" y="596" width="1" height="38" fill="#C0C0C0"/>
<rect x="780" y="598" width="1" height="36" fill="#C0C0C0"/>
<rect x="788" y="606" width="1" height="28" fill="#C0C0C0"/>
<rect x="796" y="609" width="1" height="25" fill="#C0C0C0"/>
<rect x="804" y="616" width="1" height="18" fill="#C0C0C0"/>
<rect x="812" y="621" width="1" height="13" fill="#C0C0C0"/>
<rect x="820" y="630" width="1" height="4" fill="#C0C0C0"/>
<rect x="828" y="633" width="1" height="9" fill="#C0C0C0"/>
<rect x="836" y="633" width="1" height="19" fill="#C0C0C0"/>
<rect x="844" y="633" width="1" height="27" fill="#C0C0C0"/>
<rect x="852" y="633" width="1" height="29" fill="#C0C0C0"/>
<rect x="860" y="633" width="1" height="31" fill="#C0C0C0"/>
<rect x="868" y="633" width="1" height="27" fill="#C0C0C0"/>
<rect x="876" y="633" width="1" height="25" fill="#C0C0C0"/>
<rect x="884" y="633" width="1" height="23" fill="#C0C0C0"/>
<rect x="892" y="633" width="1" height="20" fill="#C0C0C0"/>
<rect x="900" y="633" width="1" height="15" fill="#C0C0C0"/>
<rect x="908" y="633" width="1" height="12" fill="#C0C0C0"/>
<rect x="916" y="633" width="1" height="8" fill="#C0C0C0"/>
<rect x="924" y="633" width="1" height="5" fill="#C0C0C0"/>
<rect x="932" y="633" width="1" height="5" fill="#C0C0C0"/>
<rect x="940" y="633" width="1" height="4" fill="#C0C0C0"/>
<rect x="948" y="633" width="1" height="4" fill="#C0C0C0"/>
<rect x="956" y="633" width="1" height="6" fill="#C0C0C0"/>
<rect x="964" y="633" width="1" height="11" fill="#C0C0C0"/>
<rect x="972" y="633" width="1" height="14" fill="#C0C0C0"/>
<rect x="980" y="633" width="1" height="18" fill="#C0C0C0"/>
<rect x="988" y="633" width="1" height="20" fill="#C0C0C0"/>
<rect x="996" y="633" width="1" height="23" fill="#C0C0C0"/>
<rect x="1004" y="633" width="1" height="27" fill="#C0C0C0"/>
<rect x="1012" y="633" width="1" height="28" fill="#C0C0C0"/>
<rect x="1020" y="633" width="1" height="31" fill="#C0C0C0"/>
<rect x="1028" y="633" width="1" height="28" fill="#C0C0C0"/>
<rect x="1036" y="633" width="1" height="30" fill="#C0C0C0"/>
<rect x="1044" y="633" width="1" height="40" fill="#C0C0C0"/>
<rect x="1052" y="633" width="1" height="43" fill="#C0C0C0"/>
<rect x="1060" y="633" width="1" height="47" fill="#C0C0C0"/>
<rect x="1068" y="633" width="1" height="57" fill="#C0C0C0"/>
<rect x="1076" y="633" width="1" height="65" fill="#C0C0C0"/>
<rect x="1084" y="633" width="1" height="79" fill="#C0C0C0"/>
<rect x="1092" y="633" width="1" height="87" fill="#C0C0C0"/>
<rect x="1100" y="633" width="1" height="99" fill="#C0C0C0"/>
<rect x="1108" y="633" width="1" height="108" fill="#C0C0C0"/>
<rect x="1116" y="633" width="1" height="106" fill="#C0C0C0"/>
<rect x="1124" y="633" width="1" height="114" fill="#C0C0C0"/>
<rect x="1132" y="633" width="1" height="110" fill="#C0C0C0"/>
<rect x="1140" y="633" width="1" height="100" fill="#C0C0C0"/>
<rect x="1148" y="633" width="1" height="94" fill="#C0C0C0"/>
<rect x="1156" y="633" width="1" height="86" fill="#C0C0C0"/>
<rect x="1164" y="633" width="1" height="82" fill="#C0C0C0"/>
<rect x="1172" y="633" width="1" height="73" fill="#C0C0C0"/>
<rect x="1180" y="633" width="1" height="71" fill="#C0C0C0"/>
<rect x="1188" y="633" width="1" height="66" fill="#C0C0C0"/>
<rect x="1196" y="633" width="1" height="61" fill="#C0C0C0"/>
<rect x="1204" y="633" width="1" height="54" fill="#C0C0C0"/>
<rect x="1212" y="633" width="1" height="42" fill="#C0C0C0"/>
<rect x="1220" y="633" width="1" height="38" fill="#C0C0C0"/>
<rect x="1228" y="633" width="1" height="30" fill="#C0C0C0"/>
<rect x="1236" y="633" width="1" height="23" fill="#C0C0C0"/>
<rect x="1244" y="633" width="1" height="19" fill="#C0C0C0"/>
<rect x="1252" y="633" width="1" height="17" fill="#C0C0C0"/>
<rect x="1260" y="633" width="1" height="12" fill="#C0C0C0"/>
<rect x="1268" y="633" width="1" height="9" fill="#C0C0C0"/>
<rect x="1276" y="633" width="1" height="10" fill="#C0C0C0"/>
<rect x="1284" y="633" width="1" height="9" fill="#C0C0C0"/>
<rect x="1292" y="633" width="1" height="8" fill="#C0C0C0"/>
<rect x="1300" y="633" width="1" height="7" fill="#C0C0C0"/>
<rect x="1308" y="633" width="1" height="5" fill="#C0C0C0"/>
<rect x="1316" y="632" width="1" height="2" fill="#C0C0C0"/>
<rect x="1324" y="632" width="1" height="2" fill="#C0C0C0"/>
<rect x="1332" y="633" width="1" height="2" fill="#C0C0C0"/>
<rect x="1340" y="633" width="1" height="3" fill="#C0C0C0"/>
<rect x="1348" y="633" width="1" height="3" fill="#C0C0C0"/>
<rect x="1356" y="633" width="1" height="3" fill="#C0C0C0"/>
<rect x="1364" y="633" width="1" height="2" fill="#C0C0C0"/>
<rect x="1396" y="633" width="1" height="2" fill="#C0C0C0"/>
<rect x="1404" y="633" width="1" height="4" fill="#C0C0C0"/>
<polyline points="0.0,680.4 12.5,676.2 27.5,674.2 45.0,669.9 60.0,664.9 75.0,656.2 89.9,647.5 104.9,637.5 119.9,630.0 134.9,625.7 149.9,625.5 164.9,627.0 174.9,630.0 184.9,633.2 199.9,636.2 214.9,640.0 229.9,643.2 244.9,644.5 254.8,644.2 264.8,641.2 279.8,638.2 294.8,633.2 309.8,628.2 324.8,625.7 339.8,624.2 354.8,622.5 369.8,620.0 384.8,616.2 399.8,612.5 412.3,610.5 430.0,610.5 440.0,613.2 450.0,616.2 465.0,622.5 480.0,627.5 489.9,630.7 504.9,631.7 519.9,633.0 534.9,633.7 549.9,635.5 562.4,638.7 574.9,640.0 587.4,641.2 597.4,640.0 609.9,637.5 624.9,630.7 639.9,623.7 654.8,616.2 669.8,609.5 684.8,604.2 699.8,600.0 714.8,598.2 729.8,597.5 749.8,596.7 759.8,597.5 774.8,597.5 789.8,597.5 799.8,598.7 809.8,602.0 820.0,607.0 830.0,615.0 840.0,622.5 850.0,630.7 860.0,639.2 870.0,646.2 880.0,652.5 892.4,657.5 902.4,657.5 912.4,654.5 922.4,653.2 932.4,648.7 942.4,645.5 954.9,642.5 969.9,641.2 982.4,641.2 989.9,644.2 999.9,645.5 1012.4,650.5 1024.9,654.5 1034.9,656.2 1044.9,660.7 1052.3,662.5 1064.8,667.9 1074.8,673.7 1084.8,679.2 1094.8,688.7 1107.3,701.2 1119.8,713.2 1132.3,724.9 1142.3,731.2 1149.8,733.7 1162.3,733.7 1169.8,731.7 1179.8,726.9 1189.8,721.7 1199.8,713.7 1209.8,704.9 1214.3,701.6 1225.8,691.6 1237.2,682.4 1248.6,674.4 1260.1,665.3 1271.5,657.3 1283.0,651.5 1294.4,647.2 1308.7,643.5 1323.0,640.1 1337.3,639.2 1351.7,637.8 1366.0,636.7 1380.3,634.9 1394.6,634.9 1404.6,634.9" fill="none" stroke="#FF0000" stroke-width="1" stroke-dasharray="3,3"/>
</g>
<text x="0.8" y="598" font-size="10.0" fill="#000" stroke="#000" stroke-width="0.2" text-anchor="start" textLength="123" lengthAdjust="spacingAndGlyphs" >MACD(12,26,9) -45.11 -25.13</text>
<text x="1638" y="596" font-size="10.0" fill="#000" stroke="#000" stroke-width="0.2" text-anchor="start" textLength="28" lengthAdjust="spacingAndGlyphs" >536.18</text>
<text x="1638" y="637" font-size="10.0" fill="#000" stroke="#000" stroke-width="0.2" text-anchor="start" textLength="18" lengthAdjust="spacingAndGlyphs" >0.00</text>
<text x="1638" y="752" font-size="10.0" fill="#000" stroke="#000" stroke-width="0.2" text-anchor="start" textLength="35.7" lengthAdjust="spacingAndGlyphs" >-1412.34</text>
<g shape-rendering="crispEdges">
<line x1="3" y1="793.5" x2="1634" y2="793.5" stroke="#C0C0C0" stroke-width="1" stroke-dasharray="3,3"/>
<line x1="3" y1="844.5" x2="1634" y2="844.5" stroke="#C0C0C0" stroke-width="1" stroke-dasharray="3,3"/>
<line x1="3" y1="905.5" x2="1634" y2="905.5" stroke="#C0C0C0" stroke-width="1" stroke-dasharray="3,3"/>
<polyline points="4.5,868.4 12.5,869.2 20.5,870.9 28.5,872.2 36.5,837.2 44.5,838.5 52.5,834.7 60.5,833.5 68.5,833.5 76.5,821.5 84.5,822.2 92.5,817.2 100.5,828.0 108.5,838.0 116.5,838.5 124.5,847.2 132.5,848.4 140.5,857.2 148.5,851.4 156.5,862.2 164.5,858.4 172.5,858.4 180.5,856.4 188.5,859.2 196.5,851.4 204.5,862.2 212.5,859.2 220.5,864.2 228.5,857.9 236.5,837.7 244.5,834.2 252.5,836.5 260.5,832.2 268.5,825.5 276.5,833.5 284.5,832.2 292.5,830.5 300.5,840.2 308.5,833.5 316.5,835.5 324.5,829.7 332.5,835.5 340.5,840.2 348.5,829.0 356.5,824.0 364.5,814.2 372.5,812.2 380.5,811.0 388.5,809.2 396.5,816.0 404.5,842.2 412.5,843.4 420.5,857.2 428.5,860.9 436.5,863.4 444.5,848.9 452.5,838.5 460.5,844.7 468.5,854.2 476.5,849.7 484.5,839.2 492.5,840.2 500.5,839.2 508.5,842.9 516.5,857.2 524.5,853.4 532.5,855.2 540.5,863.4 548.5,857.2 556.5,849.2 564.5,849.2 572.5,851.4 580.5,844.7 588.5,834.2 596.5,819.2 604.5,823.0 612.5,818.5 620.5,817.2 628.5,821.5 636.5,818.5 644.5,821.5 652.5,819.7 660.5,811.5 668.5,810.2 676.5,815.2 684.5,809.2 692.5,816.0 700.5,826.5 708.5,822.2 716.5,833.5 724.5,821.5 732.5,820.2 740.5,814.7 748.5,820.2 756.5,822.7 764.5,819.2 772.5,815.5 780.5,829.7 788.5,851.4 796.5,842.7 804.5,852.2 812.5,851.4 820.5,865.4 828.5,876.4 836.5,877.2 844.5,878.4 852.5,862.2 860.5,863.4 868.5,848.4 876.5,850.2 884.5,854.2 892.5,842.9 900.5,839.2 908.5,842.7 916.5,840.4 924.5,838.0 932.5,847.9 940.5,844.2 948.5,848.4 956.5,852.9 964.5,864.2 972.5,860.9 980.5,865.2 988.5,861.4 996.5,870.9 1004.5,867.2 1012.5,865.9 1020.5,869.2 1028.5,852.2 1036.5,865.9 1044.5,881.4 1052.5,867.2 1060.5,870.9 1068.5,882.2 1076.5,883.4 1084.5,892.2 1092.5,886.4 1100.5,892.2 1108.5,893.4 1116.5,870.4 1124.5,882.2 1132.5,865.2 1140.5,855.2 1148.5,858.4 1156.5,855.2 1164.5,859.2 1172.5,851.4 1180.5,857.9 1188.5,854.2 1196.5,855.4 1204.5,849.6 1212.5,840.4 1220.5,848.1 1228.5,843.3 1236.5,840.4 1244.5,844.7 1252.5,846.4 1260.5,841.3 1268.5,842.4 1276.5,849.3 1284.5,847.3 1292.5,846.4 1300.5,850.1 1308.5,841.8 1316.5,836.1 1324.5,838.1 1332.5,855.3 1340.5,849.6 1348.5,844.7 1356.5,847.6 1364.5,843.3 1372.5,837.5 1380.5,843.3 1388.5,844.7 1396.5,851.3 1404.5,851.3" fill="none" stroke="#1E90FF" stroke-width="1" />
<rect x="60" y="932" width="1" height="3" fill="#000"/>
<rect x="124" y="932" width="1" height="3" fill="#000"/>
<rect x="188" y="932" width="1" height="3" fill="#000"/>
<rect x="252" y="932" width="1" height="3" fill="#000"/>
<rect x="316" y="932" width="1" height="3" fill="#000"/>
<rect x="380" y="932" width="1" height="3" fill="#000"/>
<rect x="444" y="932" width="1" height="3" fill="#000"/>
<rect x="508" y="932" width="1" height="3" fill="#000"/>
<rect x="572" y="932" width="1" height="3" fill="#000"/>
<rect x="636" y="932" width="1" height="3" fill="#000"/>
<rect x="700" y="932" width="1" height="3" fill="#000"/>
<rect x="764" y="932" width="1" height="3" fill="#000"/>
<rect x="828" y="932" width="1" height="3" fill="#000"/>
<rect x="892" y="932" width="1" height="3" fill="#000"/>
<rect x="956" y="932" width="1" height="3" fill="#000"/>
<rect x="1020" y="932" width="1" height="3" fill="#000"/>
<rect x="1084" y="932" width="1" height="3" fill="#000"/>
<rect x="1148" y="932" width="1" height="3" fill="#000"/>
<rect x="1212" y="932" width="1" height="3" fill="#000"/>
<rect x="1276" y="932" width="1" height="3" fill="#000"/>
<rect x="1340" y="932" width="1" height="3" fill="#000"/>
<rect x="1404" y="932" width="1" height="3" fill="#000"/>
</g>
<text x="-4.8" y="944" font-size="10.0" fill="#000" stroke="#000" stroke-width="0.2" text-anchor="start" textLength="52.8" lengthAdjust="spacingAndGlyphs" >28 Aug 2019</text>
<text x="59.2" y="944" font-size="10.0" fill="#000" stroke="#000" stroke-width="0.2" text-anchor="start" textLength="46.8" lengthAdjust="spacingAndGlyphs" >9 Sep 2019</text>
<text x="123.2" y="944" font-size="10.0" fill="#000" stroke="#000" stroke-width="0.2" text-anchor="start" textLength="51.8" lengthAdjust="spacingAndGlyphs" >19 Sep 2019</text>
<text x="187.2" y="944" font-size="10.0" fill="#000" stroke="#000" stroke-width="0.2" text-anchor="start" textLength="45.8" lengthAdjust="spacingAndGlyphs" >2 Oct 2019</text>
<text x="251.2" y="944" font-size="10.0" fill="#000" stroke="#000" stroke-width="0.2" text-anchor="start" textLength="50.8" lengthAdjust="spacingAndGlyphs" >15 Oct 2019</text>
<text x="315.2" y="944" font-size="10.0" fill="#000" stroke="#000" stroke-width="0.2" text-anchor="start" textLength="50.8" lengthAdjust="spacingAndGlyphs" >25 Oct 2019</text>
<text x="379.2" y="944" font-size="10.0" fill="#000" stroke="#000" stroke-width="0.2" text-anchor="start" textLength="47.8" lengthAdjust="spacingAndGlyphs" >6 Nov 2019</text>
<text x="443.2" y="944" font-size="10.0" fill="#000" stroke="#000" stroke-width="0.2" text-anchor="start" textLength="52.8" lengthAdjust="spacingAndGlyphs" >18 Nov 2019</text>
<text x="507.2" y="944" font-size="10.0" fill="#000" stroke="#000" stroke-width="0.2" text-anchor="start" textLength="52.8" lengthAdjust="spacingAndGlyphs" >28 Nov 2019</text>
<text x="571.2" y="944" font-size="10.0" fill="#000" stroke="#000" stroke-width="0.2" text-anchor="start" textLength="51.8" lengthAdjust="spacingAndGlyphs" >10 Dec 2019</text>
<text x="635.2" y="944" font-size="10.0" fill="#000" stroke="#000" stroke-width="0.2" text-anchor="start" textLength="51.8" lengthAdjust="spacingAndGlyphs" >20 Dec 2019</text>
<text x="699.2" y="944" font-size="10.0" fill="#000" stroke="#000" stroke-width="0.2" text-anchor="start" textLength="45.8" lengthAdjust="spacingAndGlyphs" >6 Jan 2020</text>
<text x="763.2" y="944" font-size="10.0" fill="#000" stroke="#000" stroke-width="0.2" text-anchor="start" textLength="50.8" lengthAdjust="spacingAndGlyphs" >16 Jan 2020</text>
<text x="827.2" y="944" font-size="10.0" fill="#000" stroke="#000" stroke-width="0.2" text-anchor="start" textLength="50.8" lengthAdjust="spacingAndGlyphs" >30 Jan 2020</text>
<text x="891.2" y="944" font-size="10.0" fill="#000" stroke="#000" stroke-width="0.2" text-anchor="start" textLength="51.8" lengthAdjust="spacingAndGlyphs" >11 Feb 2020</text>
<text x="955.2" y="944" font-size="10.0" fill="#000" stroke="#000" stroke-width="0.2" text-anchor="start" textLength="51.8" lengthAdjust="spacingAndGlyphs" >21 Feb 2020</text>
<text x="1019.2" y="944" font-size="10.0" fill="#000" stroke="#000" stroke-width="0.2" text-anchor="start" textLength="46.8" lengthAdjust="spacingAndGlyphs" >4 Mar 2020</text>
<text x="1083.2" y="944" font-size="10.0" fill="#000" stroke="#000" stroke-width="0.2" text-anchor="start" textLength="51.8" lengthAdjust="spacingAndGlyphs" >16 Mar 2020</text>
<text x="1147.2" y="944" font-size="10.0" fill="#000" stroke="#000" stroke-width="0.2" text-anchor="start" textLength="51.8" lengthAdjust="spacingAndGlyphs" >26 Mar 2020</text>
<text x="1211.2" y="944" font-size="10.0" fill="#000" stroke="#000" stroke-width="0.2" text-anchor="start" textLength="45.8" lengthAdjust="spacingAndGlyphs" >7 Apr 2020</text>
<text x="1275.2" y="944" font-size="10.0" fill="#000" stroke="#000" stroke-width="0.2" text-anchor="start" textLength="50.8" lengthAdjust="spacingAndGlyphs" >21 Apr 2020</text>
<text x="1339.2" y="944" font-size="10.0" fill="#000" stroke="#000" stroke-width="0.2" text-anchor="start" textLength="48.8" lengthAdjust="spacingAndGlyphs" >5 May 2020</text>
<text x="1403.2" y="944" font-size="10.0" fill="#000" stroke="#000" stroke-width="0.2" text-anchor="start" textLength="53.8" lengthAdjust="spacingAndGlyphs" >15 May 2020</text>
<text x="0.8" y="770" font-size="10.0" fill="#000" stroke="#000" stroke-width="0.2" text-anchor="start" textLength="66.7" lengthAdjust="spacingAndGlyphs" >RSI(14) 46.2165</text>
<text x="1638.3" y="768" font-size="10.0" fill="#000" stroke="#000" stroke-width="0.2" text-anchor="start" textLength="14.5" lengthAdjust="spacingAndGlyphs" >100</text>
<text x="1638.3" y="797" font-size="10.0" fill="#000" stroke="#000" stroke-width="0.2" text-anchor="start" textLength="9.5" lengthAdjust="spacingAndGlyphs" >80</text>
<text x="1638.3" y="848" font-size="10.0" fill="#000" stroke="#000" stroke-width="0.2" text-anchor="start" textLength="9.5" lengthAdjust="spacingAndGlyphs" >50</text>
<text x="1638.3" y="909" font-size="10.0" fill="#000" stroke="#000" stroke-width="0.2" text-anchor="start" textLength="9.5" lengthAdjust="spacingAndGlyphs" >15</text>
<text x="1638.3" y="928" font-size="10.0" fill="#000" stroke="#000" stroke-width="0.2" text-anchor="start" textLength="4.6" lengthAdjust="spacingAndGlyphs" >0</text>
<defs>
<linearGradient id="gPlus" x1="0" y1="0" x2="1" y2="1"><stop offset="0" stop-color="#7CFF7C"/><stop offset=".5" stop-color="#10E030"/><stop offset="1" stop-color="#009010"/></linearGradient>
<linearGradient id="gGold" x1="0" y1="0" x2="1" y2="1"><stop offset="0" stop-color="#FFE060"/><stop offset=".6" stop-color="#E8B010"/><stop offset="1" stop-color="#C08808"/></linearGradient>
<linearGradient id="gLens" x1="0" y1="0" x2="1" y2="1"><stop offset="0" stop-color="#B8E0F8"/><stop offset="1" stop-color="#F4FBFF"/></linearGradient>
<linearGradient id="gSell" x1="0" y1="0" x2="0" y2="1"><stop offset="0" stop-color="#F24A4A"/><stop offset="1" stop-color="#E23838"/></linearGradient>
<linearGradient id="gSell2" x1="0" y1="0" x2="0" y2="1"><stop offset="0" stop-color="#DC3030"/><stop offset="1" stop-color="#B00000"/></linearGradient>
<linearGradient id="gBtn" x1="0" y1="0" x2="0" y2="1"><stop offset="0" stop-color="#F4F4F4"/><stop offset=".5" stop-color="#E0E0E0"/><stop offset=".5" stop-color="#D0D0D0"/><stop offset="1" stop-color="#DCDCDC"/></linearGradient>
<linearGradient id="gRing" x1="0" y1="0" x2="1" y2="1"><stop offset="0" stop-color="#38A0F8"/><stop offset="1" stop-color="#0848A8"/></linearGradient>
<radialGradient id="gClock" cx=".4" cy=".35" r=".7"><stop offset="0" stop-color="#FFFFFF"/><stop offset="1" stop-color="#C8D0D8"/></radialGradient>
<radialGradient id="gStop" cx=".4" cy=".35" r=".7"><stop offset="0" stop-color="#FF5030"/><stop offset="1" stop-color="#C81000"/></radialGradient>
<linearGradient id="gHat" x1="0" y1="0" x2="0" y2="1"><stop offset="0" stop-color="#8CD8F4"/><stop offset="1" stop-color="#2E8CC0"/></linearGradient>
<linearGradient id="gCloud" x1="0" y1="0" x2="0" y2="1"><stop offset="0" stop-color="#FFFFFF"/><stop offset="1" stop-color="#C4D0E4"/></linearGradient>
<linearGradient id="gGr" x1="0" y1="0" x2="0" y2="1"><stop offset="0" stop-color="#2C9818"/><stop offset="1" stop-color="#46B028"/></linearGradient>
<linearGradient id="gBl" x1="0" y1="0" x2="0" y2="1"><stop offset="0" stop-color="#0C30B0"/><stop offset="1" stop-color="#3468E0"/></linearGradient>
<pattern id="chk" width="2" height="2" patternUnits="userSpaceOnUse"><rect width="2" height="2" fill="#F0F0F0"/><rect width="1" height="1" fill="#fff"/><rect x="1" y="1" width="1" height="1" fill="#fff"/></pattern>
</defs>
<g shape-rendering="crispEdges">
<rect x="0" y="0" width="1681" height="26" fill="#F0F0F0"/>
<rect x="0" y="0" width="1681" height="1" fill="#FFFFFF"/>
<rect x="0" y="25" width="1681" height="1" fill="#F4F4F4"/>
<rect x="0" y="26" width="1681" height="1" fill="#A0A0A0"/>
<rect x="0" y="27" width="1681" height="1" fill="#696969"/>
<rect x="0" y="28" width="1681" height="2" fill="#FFFFFF"/>
<rect x="231" y="1" width="1" height="25" fill="#A0A0A0"/><rect x="232" y="1" width="1" height="25" fill="#FFFFFF"/>
<rect x="599" y="1" width="1" height="25" fill="#A0A0A0"/><rect x="600" y="1" width="1" height="25" fill="#FFFFFF"/>
<rect x="905" y="1" width="1" height="25" fill="#A0A0A0"/><rect x="906" y="1" width="1" height="25" fill="#FFFFFF"/>
<rect x="326" y="3" width="1" height="21" fill="#A0A0A0"/>
<rect x="416" y="3" width="1" height="21" fill="#A0A0A0"/>
<rect x="478" y="3" width="1" height="21" fill="#A0A0A0"/>
<rect x="666" y="3" width="1" height="21" fill="#A0A0A0"/>
<rect x="1166" y="3" width="1" height="21" fill="#A0A0A0"/>
<rect x="235" y="4" width="3" height="1" fill="#A8A8A8"/>
<rect x="235" y="6" width="3" height="1" fill="#A8A8A8"/>
<rect x="235" y="8" width="3" height="1" fill="#A8A8A8"/>
<rect x="235" y="10" width="3" height="1" fill="#A8A8A8"/>
<rect x="235" y="12" width="3" height="1" fill="#A8A8A8"/>
<rect x="235" y="14" width="3" height="1" fill="#A8A8A8"/>
<rect x="235" y="16" width="3" height="1" fill="#A8A8A8"/>
<rect x="235" y="18" width="3" height="1" fill="#A8A8A8"/>
<rect x="235" y="20" width="3" height="1" fill="#A8A8A8"/>
<rect x="235" y="22" width="3" height="1" fill="#A8A8A8"/>
<rect x="603" y="4" width="3" height="1" fill="#A8A8A8"/>
<rect x="603" y="6" width="3" height="1" fill="#A8A8A8"/>
<rect x="603" y="8" width="3" height="1" fill="#A8A8A8"/>
<rect x="603" y="10" width="3" height="1" fill="#A8A8A8"/>
<rect x="603" y="12" width="3" height="1" fill="#A8A8A8"/>
<rect x="603" y="14" width="3" height="1" fill="#A8A8A8"/>
<rect x="603" y="16" width="3" height="1" fill="#A8A8A8"/>
<rect x="603" y="18" width="3" height="1" fill="#A8A8A8"/>
<rect x="603" y="20" width="3" height="1" fill="#A8A8A8"/>
<rect x="603" y="22" width="3" height="1" fill="#A8A8A8"/>
<rect x="909" y="4" width="3" height="1" fill="#A8A8A8"/>
<rect x="909" y="6" width="3" height="1" fill="#A8A8A8"/>
<rect x="909" y="8" width="3" height="1" fill="#A8A8A8"/>
<rect x="909" y="10" width="3" height="1" fill="#A8A8A8"/>
<rect x="909" y="12" width="3" height="1" fill="#A8A8A8"/>
<rect x="909" y="14" width="3" height="1" fill="#A8A8A8"/>
<rect x="909" y="16" width="3" height="1" fill="#A8A8A8"/>
<rect x="909" y="18" width="3" height="1" fill="#A8A8A8"/>
<rect x="909" y="20" width="3" height="1" fill="#A8A8A8"/>
<rect x="909" y="22" width="3" height="1" fill="#A8A8A8"/>
<rect x="269" y="2" width="25" height="22" fill="url(#chk)"/><rect x="269" y="2" width="25" height="1" fill="#888"/><rect x="269" y="2" width="1" height="22" fill="#888"/><rect x="293" y="3" width="1" height="21" fill="#fff"/><rect x="270" y="23" width="24" height="1" fill="#fff"/>
<rect x="421" y="2" width="25" height="22" fill="url(#chk)"/><rect x="421" y="2" width="25" height="1" fill="#888"/><rect x="421" y="2" width="1" height="22" fill="#888"/><rect x="445" y="3" width="1" height="21" fill="#fff"/><rect x="422" y="23" width="24" height="1" fill="#fff"/>
<rect x="449" y="2" width="25" height="22" fill="url(#chk)"/><rect x="449" y="2" width="25" height="1" fill="#888"/><rect x="449" y="2" width="1" height="22" fill="#888"/><rect x="473" y="3" width="1" height="21" fill="#fff"/><rect x="450" y="23" width="24" height="1" fill="#fff"/>
<rect x="609" y="2" width="25" height="22" fill="url(#chk)"/><rect x="609" y="2" width="25" height="1" fill="#888"/><rect x="609" y="2" width="1" height="22" fill="#888"/><rect x="633" y="3" width="1" height="21" fill="#fff"/><rect x="610" y="23" width="24" height="1" fill="#fff"/>
<rect x="1083" y="2" width="25" height="22" fill="url(#chk)"/><rect x="1083" y="2" width="25" height="1" fill="#888"/><rect x="1083" y="2" width="1" height="22" fill="#888"/><rect x="1107" y="3" width="1" height="21" fill="#fff"/><rect x="1084" y="23" width="24" height="1" fill="#fff"/>
</g>
<path d="M5.5,6.5h7.5l3.5,3.5v9.5h-11z" fill="#fff" stroke="#808080"/><path d="M13,6.5v3.5h3.5" fill="none" stroke="#808080"/><rect x="7" y="8.3" width="3" height="1.4" fill="#909090"/><path d="M7,12.5h7M7,14.5h5M7,16.5h3" stroke="#909090"/>
<path d="M13,12.2h4v4.4h4v3.4h-4v4h-4v-4h-4v-3.4h4z" fill="url(#gPlus)" stroke="#007800" stroke-width=".8"/>
<text x="24" y="17.5" font-size="12" fill="#000" textLength="36" lengthAdjust="spacingAndGlyphs" style="font-family:'Liberation Sans','Noto Sans CJK SC',sans-serif">新订单</text>
<path d="M78,7.3l9.5,5.6v3l-8,5.8-7.3-5.6 3.6-3.8z" fill="url(#gGold)" stroke="#A06810" stroke-width="1"/><path d="M79.5,20.3l7.8-5.6" stroke="#FFF0A0" stroke-width=".8"/>
<path d="M102.5,6.5h8l2.5,1.5v8h-10.5z" fill="#20A0F8" stroke="#0878D8" stroke-width=".8"/><path d="M105,8.5h8v7h-8z" fill="#68C0FF"/><rect x="107" y="10.3" width="4.5" height="1.3" fill="#fff"/>
<path d="M102.6,21.5a2.6,2.6 0 0 1 .6,-5.1a3.2,3.2 0 0 1 5.6,-1.3a2.6,2.6 0 0 1 4.2,1.2a2.7,2.7 0 0 1 .3,5.2z" fill="url(#gCloud)" stroke="#4C68A8" stroke-width="1"/>
<g fill="none" stroke-width="1.1"><path d="M136,5.6a7.9,7.9 0 0 0 0,15.8" stroke="#4070D8" opacity=".55"/><path d="M136,8.3a5.2,5.2 0 0 0 0,10.4" stroke="#4070D8" opacity=".65"/><path d="M136,10.8a2.7,2.7 0 0 0 0,5.4" stroke="#3060D0"/><path d="M136,5.6a7.9,7.9 0 0 1 7.9,7.9" stroke="#60A868" opacity=".8"/><path d="M136,8.3a5.2,5.2 0 0 1 5.2,5.2" stroke="#60A868" opacity=".8"/><path d="M136,10.8a2.7,2.7 0 0 1 2.7,2.7" stroke="#60A868"/></g>
<path d="M136.4,13.5h7.5a7.9,7.9 0 0 1 -7.5,8z" fill="#58B058" opacity=".7"/><path d="M136.4,13.5V21.6" stroke="#10A020" stroke-width="1.4"/><circle cx="136" cy="13.3" r="1.7" fill="#2050C8"/>
<path d="M155.6,14l14.4,-1l-6.8,8.6z" fill="#FAE24A" stroke="#E0A010" stroke-width=".8"/>
<ellipse cx="163" cy="11.3" rx="8" ry="2.6" fill="url(#gHat)" stroke="#2880B0" stroke-width=".7"/><path d="M159,10.6c0,-6.5 7.6,-6.5 7.6,0z" fill="url(#gHat)" stroke="#2880B0" stroke-width=".7"/>
<circle cx="167.5" cy="17.6" r="4.3" fill="url(#gStop)"/><rect x="166" y="16.1" width="3" height="3" fill="#fff"/>
<text x="176" y="17.5" font-size="12" fill="#000" textLength="48" lengthAdjust="spacingAndGlyphs" style="font-family:'Liberation Sans','Noto Sans CJK SC',sans-serif">自动交易</text>
<g stroke="#505050" stroke-width="1.3" fill="none"><path d="M249.5,9.5V22M247,19.5H260"/></g><path d="M249.5,7.8l2,2.9h-4zM261.4,19.5l-2.9,2v-4z" fill="#505050"/>
<path d="M255.5,9v9M255.5,10.5h2.6M252.9,16.5h2.6" stroke="#008000" stroke-width="1.5" fill="none"/>
<g stroke="#505050" stroke-width="1.3" fill="none"><path d="M277.5,9.5V22M275,19.5H288"/></g><path d="M277.5,7.8l2,2.9h-4zM289.4,19.5l-2.9,2v-4z" fill="#505050"/>
<path d="M283.5,5.8v12" stroke="#008000" stroke-width="1.3"/><rect x="281.5" y="8.5" width="4" height="7" fill="#30E050" stroke="#008800" stroke-width="1"/>
<g stroke="#505050" stroke-width="1.3" fill="none"><path d="M305.5,9.5V22M303,19.5H316"/></g><path d="M305.5,7.8l2,2.9h-4zM317.4,19.5l-2.9,2v-4z" fill="#505050"/>
<path d="M304,17c2.5,-1.5 4,-6 6.3,-6s3.5,3.6 5.4,4.2" stroke="#209030" stroke-width="1.3" fill="none"/>
<path d="M345.0,16.2l5.3,4.4" stroke="#B88A10" stroke-width="3.2" stroke-linecap="round"/><path d="M345.2,16l5,4.2" stroke="#F0D040" stroke-width="1.6" stroke-linecap="round"/>
<circle cx="341.2" cy="12" r="5.7" fill="url(#gLens)" stroke="#2868C0" stroke-width="1.3"/>
<path d="M338.0,12h6.4M341.2,8.8v6.4" stroke="#3484B4" stroke-width="1.9"/>
<path d="M373.0,16.2l5.3,4.4" stroke="#B88A10" stroke-width="3.2" stroke-linecap="round"/><path d="M373.2,16l5,4.2" stroke="#F0D040" stroke-width="1.6" stroke-linecap="round"/>
<circle cx="369.2" cy="12" r="5.7" fill="url(#gLens)" stroke="#2868C0" stroke-width="1.3"/>
<path d="M366.0,12h6.4" stroke="#3484B4" stroke-width="1.9"/>
<rect x="391" y="6" width="8" height="8" fill="url(#gGr)"/><rect x="392" y="7" width="1" height="1" fill="#fff" opacity=".8"/><path d="M392,9.4h6v3.8h-1.3v-1.2h-3.4v1.2h-1.3z" fill="#fff"/><rect x="393.2" y="10.3" width="3.6" height=".9" fill="#40A020" opacity=".55"/>
<rect x="399" y="6" width="8" height="8" fill="url(#gBl)"/><rect x="400" y="7" width="1" height="1" fill="#fff" opacity=".8"/><path d="M400,9.4h6v3.8h-1.3v-1.2h-3.4v1.2h-1.3z" fill="#fff"/><rect x="401.2" y="10.3" width="3.6" height=".9" fill="#2050D0" opacity=".55"/>
<rect x="391" y="14" width="8" height="8" fill="url(#gBl)"/><rect x="392" y="15" width="1" height="1" fill="#fff" opacity=".8"/><path d="M392,17.4h6v3.8h-1.3v-1.2h-3.4v1.2h-1.3z" fill="#fff"/><rect x="393.2" y="18.3" width="3.6" height=".9" fill="#2050D0" opacity=".55"/>
<rect x="399" y="14" width="8" height="8" fill="url(#gGr)"/><rect x="400" y="15" width="1" height="1" fill="#fff" opacity=".8"/><path d="M400,17.4h6v3.8h-1.3v-1.2h-3.4v1.2h-1.3z" fill="#fff"/><rect x="401.2" y="18.3" width="3.6" height=".9" fill="#40A020" opacity=".55"/>
<g stroke="#505050" stroke-width="1.3" fill="none"><path d="M429.5,9.5V22M427,19.5H440"/></g><path d="M429.5,7.8l2,2.9h-4zM441.4,19.5l-2.9,2v-4z" fill="#505050"/>
<path d="M434.3,10.2v6.8l3.8,-3.4z" fill="#80E888" stroke="#10A020" stroke-width="1"/>
<g stroke="#505050" stroke-width="1.3" fill="none"><path d="M457.5,9.5V22M455,19.5H468"/></g><path d="M457.5,7.8l2,2.9h-4zM469.4,19.5l-2.9,2v-4z" fill="#505050"/>
<path d="M463.5,8.2v9.4" stroke="#1070A0" stroke-width="1.3"/><path d="M469,13.5h-4" stroke="#D04000" stroke-width="1.2"/><path d="M464.2,13.5l3,-2.3l-.7,2.3l.7,2.3z" fill="#D04000"/>
<path d="M488.5,6.5h8l3.5,3.5v9.5h-11.5z" fill="#fff" stroke="#888" stroke-width="1"/><path d="M496.5,6.5v3.5h3.5" fill="none" stroke="#888"/><path d="M494.3,9.6c-1.6,-.5 -2.2,.4 -2.2,1.8v5.6M490.6,12.6h3" stroke="#604830" stroke-width="1" fill="none"/>
<path d="M496.4,12h4v4h3.8v3.6h-3.8v4h-4v-4h-3.8v-3.6h3.8z" fill="url(#gPlus)" stroke="#007800" stroke-width=".8"/>
<polygon points="510,13 515.4,13 512.7,16" fill="#000" shape-rendering="auto"/>
<circle cx="534" cy="14" r="6.9" fill="url(#gClock)" stroke="url(#gRing)" stroke-width="2.1"/><circle cx="534" cy="14" r="4.6" fill="none" stroke="#A8B0B8" stroke-width="0.9" stroke-dasharray="0.7,1.71"/><path d="M533.6,10.2v4.1h3.2" stroke="#202020" stroke-width="1.3" fill="none"/><circle cx="534" cy="17.2" r=".8" fill="#40A0FF"/>
<polygon points="549,13 554.4,13 551.7,16" fill="#000" shape-rendering="auto"/>
<rect x="565.6" y="7.4" width="15" height="13" fill="#fff" stroke="#3470C0" stroke-width="1.1"/><rect x="565.6" y="7.4" width="15" height="2.2" fill="#3C7CD0"/><path d="M566,14.9h14.4" stroke="#3470C0" stroke-width="1"/>
<path d="M567.8,13.3h1.8l1.6,-1.5h1.6l1.6,1h1.6l1.6,-1.2h1.6" stroke="#A01808" stroke-width="1.2" fill="none" stroke-dasharray="1.6,.7"/><path d="M568.4,18.6h1.8l1.5,-1.2l1.5,.8l2.4,-2.2l2.6,2.6" stroke="#189030" stroke-width="1.2" fill="none" stroke-dasharray="1.6,.5"/>
<polygon points="588,13 593.4,13 590.7,16" fill="#000" shape-rendering="auto"/>
<path d="M617.2,6.8v11l2.5,-2.4l2.5,5.6l1.6,-.7l-2.5,-5.4h3.7z" fill="#505050"/>
<path d="M642,14.4h6.6M650.4,14.4h6.6M649.5,7v6.5M649.5,15.3v6.6" stroke="#505050" stroke-width="1.3"/>
<path d="M683.5,8.2v12.6M706,14.4h12M733.6,20.9L746.2,8.7" stroke="#505050" stroke-width="1.4" fill="none"/>
<path d="M759.7,15.7L767.9,8M765.2,20.7L774,12.5" stroke="#505050" stroke-width="1.1"/><path d="M761.5,19.5l2,-5l1,2.6l2.2,-5.4l1,2.6l2.2,-5.4l.9,2.6l1.8,-4.6" stroke="#505050" stroke-width="1" fill="none"/>
<text x="770.7" y="22.8" font-size="6.6" font-weight="bold" fill="#303030">E</text>
<path d="M789,7.3H802" stroke="#505050" stroke-width="1" stroke-dasharray="1,1"/>
<path d="M789,10.3H802" stroke="#505050" stroke-width="1" stroke-dasharray="1,1"/>
<path d="M789,14.4H802" stroke="#505050" stroke-width="1" stroke-dasharray="1,1"/>
<path d="M789,18.3H797.5" stroke="#505050" stroke-width="1" stroke-dasharray="1,1"/>
<text x="798.6" y="22.8" font-size="6.6" font-weight="bold" fill="#303030">F</text>
<text x="823.6" y="19" font-size="13" fill="#505050" stroke="#505050" stroke-width=".15" text-anchor="middle">A</text>
<rect x="846.5" y="8.5" width="11" height="12" fill="none" stroke="#505050" stroke-width="1" stroke-dasharray="1,1" shape-rendering="crispEdges"/><path d="M848.4,12h7.8M852.3,12v7" stroke="#505050" stroke-width="1.7" fill="none"/><rect x="845.3" y="7.2" width="2" height="1.2" fill="#505050"/>
<path d="M876.5,7.8l3.6,3h-1.3v1.9h-4.6v-1.9h-1.3zM883.6,21l-3.6,-3h1.3v-1.9h4.6v1.9h1.3z" fill="#505050"/><path d="M875.2,15.6l2.3,2l4.1,-5.1" stroke="#505050" stroke-width="1.3" fill="none"/>
<polygon points="894,13 899.4,13 896.7,16" fill="#000" shape-rendering="auto"/>
<text x="927" y="18" font-size="9.6" fill="#404040" text-anchor="middle">M1</text>
<text x="955" y="18" font-size="9.6" fill="#404040" text-anchor="middle">M5</text>
<text x="983.4" y="18" font-size="9.6" fill="#404040" text-anchor="middle">M15</text>
<text x="1011.3" y="18" font-size="9.6" fill="#404040" text-anchor="middle">M30</text>
<text x="1039.3" y="18" font-size="9.6" fill="#404040" text-anchor="middle">H1</text>
<text x="1067" y="18" font-size="9.6" fill="#404040" text-anchor="middle">H4</text>
<text x="1095.5" y="18" font-size="9.6" fill="#404040" text-anchor="middle">D1</text>
<text x="1124.2" y="18" font-size="9.6" fill="#404040" text-anchor="middle">W1</text>
<text x="1151" y="18" font-size="9.6" fill="#404040" text-anchor="middle">MN</text>
<path d="M1633,15.1l-3.7,3.5" stroke="#1450D0" stroke-width="2.6" stroke-linecap="round"/><circle cx="1636.6" cy="11.4" r="3.8" fill="#fff" stroke="#1C58D8" stroke-width="1.3"/>
<path d="M1671,15.2l1.6,2.4l-.1,-2.6z" fill="#707070"/><ellipse cx="1669.3" cy="11.1" rx="6.2" ry="4.6" fill="#FAFAFC" stroke="#9A9A9A" stroke-width=".9"/><path d="M1659,18l-1.4,2.6l2.6,-2.2z" fill="#707070"/><ellipse cx="1660.4" cy="14.9" rx="4.8" ry="3.5" fill="#F6F6FA" stroke="#9A9A9A" stroke-width=".9"/>
<polygon points="0,41 2.9,36.8 5.8,41" fill="#000"/>
<text x="11.5" y="42" font-size="10" stroke="#000" stroke-width=".2" textLength="50" lengthAdjust="spacingAndGlyphs">HK50-,Daily</text>
<text x="68.3" y="42" font-size="10" stroke="#000" stroke-width=".2" textLength="140.5" lengthAdjust="spacingAndGlyphs">23773.0 23905.0 23543.0 23668.0</text>
<g shape-rendering="crispEdges">
<rect x="0" y="50" width="51" height="25" fill="url(#gSell)"/><rect x="167" y="50" width="51" height="25" fill="url(#gSell)"/>
<rect x="0" y="74" width="108" height="40" fill="url(#gSell2)"/><rect x="110" y="74" width="108" height="40" fill="url(#gSell2)"/>
<rect x="0" y="50" width="51" height="1" fill="#C81818"/><rect x="50" y="50" width="1" height="24" fill="#C81818"/><rect x="167" y="50" width="51" height="1" fill="#C81818"/><rect x="167" y="50" width="1" height="24" fill="#C81818"/><rect x="217" y="50" width="1" height="64" fill="#C01010"/>
<rect x="3" y="74" width="44" height="1" fill="#B81010"/><rect x="170" y="74" width="44" height="1" fill="#B81010"/>
<rect x="107" y="74" width="1" height="40" fill="#B00808"/><rect x="110" y="74" width="1" height="40" fill="#C82020"/>
<rect x="53.5" y="50.5" width="110" height="21" fill="#fff" stroke="#A8ACB8" stroke-width="1"/>
<rect x="55" y="52" width="18" height="18" fill="url(#gBtn)"/><rect x="144" y="52" width="18" height="18" fill="url(#gBtn)"/><rect x="74" y="51" width="1" height="20" fill="#A8ACB8"/><rect x="142" y="51" width="1" height="20" fill="#A8ACB8"/>
</g>
<polygon points="61.3,59.4 66.3,59.4 63.8,62.2" fill="#5060C0"/><polygon points="150.4,62 155.4,62 152.9,59.2" fill="#5060C0"/>
<text x="139.3" y="65" font-size="12" text-anchor="end" fill="#101010">1.00</text>
<text x="24" y="66" font-size="12" fill="#fff" text-anchor="middle" textLength="25.5" lengthAdjust="spacingAndGlyphs">SELL</text>
<text x="191" y="66" font-size="12" fill="#fff" text-anchor="middle" textLength="22.5" lengthAdjust="spacingAndGlyphs">BUY</text>
<text x="15.3" y="104.6" font-size="11.2" font-weight="bold" fill="#fff" textLength="34" lengthAdjust="spacingAndGlyphs">23666</text>
<text x="125.3" y="104.6" font-size="11.2" font-weight="bold" fill="#fff" textLength="34" lengthAdjust="spacingAndGlyphs">23682</text>
<rect x="54.4" y="100.6" width="4.2" height="4" fill="#fff"/><rect x="165.3" y="100.6" width="4.2" height="4" fill="#fff"/>
<text x="60.3" y="104.6" font-size="33" fill="#fff" textLength="16.5" lengthAdjust="spacingAndGlyphs">5</text>
<text x="171.3" y="104.6" font-size="33" fill="#fff" textLength="16.5" lengthAdjust="spacingAndGlyphs">5</text>
</svg>
</body></html>
